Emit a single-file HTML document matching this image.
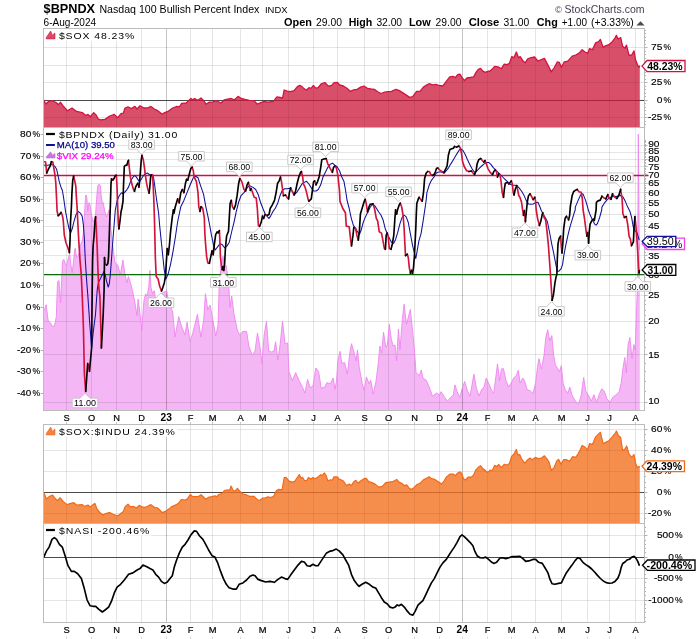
<!DOCTYPE html>
<html><head><meta charset="utf-8"><title>$BPNDX</title>
<style>html,body{margin:0;padding:0;background:#fff;width:700px;height:639px;overflow:hidden;font-family:"Liberation Sans",sans-serif}
#ohlc{position:absolute;top:14.5px;left:0;width:640px;text-align:right;font-size:10.3px;line-height:13px;white-space:nowrap;color:#000;letter-spacing:0px}
#ohlc b{font-weight:bold}
</style></head><body>
<svg width="700" height="639" viewBox="0 0 700 639" style="position:absolute;left:0;top:0;will-change:transform">
<rect width="700" height="639" fill="#fff"/>
<line x1="66.5" y1="28.5" x2="66.5" y2="127.5" stroke="rgba(0,0,0,0.050)" stroke-width="1"/>
<line x1="91.5" y1="28.5" x2="91.5" y2="127.5" stroke="rgba(0,0,0,0.050)" stroke-width="1"/>
<line x1="116.5" y1="28.5" x2="116.5" y2="127.5" stroke="rgba(0,0,0,0.050)" stroke-width="1"/>
<line x1="141.5" y1="28.5" x2="141.5" y2="127.5" stroke="rgba(0,0,0,0.050)" stroke-width="1"/>
<line x1="166.5" y1="28.5" x2="166.5" y2="127.5" stroke="rgba(0,0,0,0.120)" stroke-width="1"/>
<line x1="190.5" y1="28.5" x2="190.5" y2="127.5" stroke="rgba(0,0,0,0.050)" stroke-width="1"/>
<line x1="212.5" y1="28.5" x2="212.5" y2="127.5" stroke="rgba(0,0,0,0.050)" stroke-width="1"/>
<line x1="240.5" y1="28.5" x2="240.5" y2="127.5" stroke="rgba(0,0,0,0.050)" stroke-width="1"/>
<line x1="262.5" y1="28.5" x2="262.5" y2="127.5" stroke="rgba(0,0,0,0.050)" stroke-width="1"/>
<line x1="288.5" y1="28.5" x2="288.5" y2="127.5" stroke="rgba(0,0,0,0.050)" stroke-width="1"/>
<line x1="313.5" y1="28.5" x2="313.5" y2="127.5" stroke="rgba(0,0,0,0.050)" stroke-width="1"/>
<line x1="337.5" y1="28.5" x2="337.5" y2="127.5" stroke="rgba(0,0,0,0.050)" stroke-width="1"/>
<line x1="364.5" y1="28.5" x2="364.5" y2="127.5" stroke="rgba(0,0,0,0.050)" stroke-width="1"/>
<line x1="388.5" y1="28.5" x2="388.5" y2="127.5" stroke="rgba(0,0,0,0.050)" stroke-width="1"/>
<line x1="414.5" y1="28.5" x2="414.5" y2="127.5" stroke="rgba(0,0,0,0.050)" stroke-width="1"/>
<line x1="439.5" y1="28.5" x2="439.5" y2="127.5" stroke="rgba(0,0,0,0.050)" stroke-width="1"/>
<line x1="462.5" y1="28.5" x2="462.5" y2="127.5" stroke="rgba(0,0,0,0.120)" stroke-width="1"/>
<line x1="487.5" y1="28.5" x2="487.5" y2="127.5" stroke="rgba(0,0,0,0.050)" stroke-width="1"/>
<line x1="511.5" y1="28.5" x2="511.5" y2="127.5" stroke="rgba(0,0,0,0.050)" stroke-width="1"/>
<line x1="535.5" y1="28.5" x2="535.5" y2="127.5" stroke="rgba(0,0,0,0.050)" stroke-width="1"/>
<line x1="561.5" y1="28.5" x2="561.5" y2="127.5" stroke="rgba(0,0,0,0.050)" stroke-width="1"/>
<line x1="587.5" y1="28.5" x2="587.5" y2="127.5" stroke="rgba(0,0,0,0.050)" stroke-width="1"/>
<line x1="609.5" y1="28.5" x2="609.5" y2="127.5" stroke="rgba(0,0,0,0.050)" stroke-width="1"/>
<line x1="635.5" y1="28.5" x2="635.5" y2="127.5" stroke="rgba(0,0,0,0.050)" stroke-width="1"/>
<line x1="43.5" y1="47.5" x2="644.5" y2="47.5" stroke="rgba(0,0,0,0.050)" stroke-width="1"/>
<line x1="43.5" y1="65.5" x2="644.5" y2="65.5" stroke="rgba(0,0,0,0.050)" stroke-width="1"/>
<line x1="43.5" y1="82.5" x2="644.5" y2="82.5" stroke="rgba(0,0,0,0.050)" stroke-width="1"/>
<line x1="43.5" y1="117.5" x2="644.5" y2="117.5" stroke="rgba(0,0,0,0.050)" stroke-width="1"/>
<line x1="43.5" y1="100.5" x2="644.5" y2="100.5" stroke="#4a4a4a" stroke-width="1"/>
<path d="M43.9 100.7 L44.1 100.7 L45.7 103.9 L49.1 101.1 L52.6 100.7 L56.0 102.5 L58.3 104.6 L60.6 102.3 L62.9 105.7 L67.4 110.7 L72.0 108.0 L76.6 111.4 L82.3 112.6 L85.7 115.5 L88.0 114.4 L90.3 116.7 L93.7 112.6 L96.0 114.9 L98.3 119.0 L100.6 119.9 L105.0 119.4 L109.7 116.0 L114.3 114.4 L117.7 117.6 L121.0 113.7 L123.4 113.0 L125.0 108.0 L128.0 106.9 L131.4 108.5 L134.9 106.4 L137.0 109.0 L140.0 105.7 L144.0 108.0 L147.4 108.0 L150.9 106.4 L154.3 109.0 L157.7 110.7 L162.3 114.2 L164.6 112.6 L168.0 111.4 L172.6 108.0 L177.0 106.4 L179.4 106.9 L181.7 103.4 L186.3 103.0 L190.9 98.4 L192.3 99.8 L194.6 98.7 L198.0 100.3 L201.0 98.0 L203.7 100.7 L206.0 104.2 L209.4 102.1 L212.9 101.9 L216.3 100.7 L220.9 103.0 L224.3 99.8 L227.7 99.1 L231.1 98.5 L234.6 99.8 L238.0 96.4 L241.4 98.5 L244.9 99.4 L249.4 100.3 L254.0 100.7 L257.4 104.2 L260.9 102.6 L264.3 101.4 L267.7 102.1 L273.4 101.4 L276.9 96.9 L280.3 97.5 L282.6 98.0 L284.2 90.0 L287.1 91.1 L290.6 91.6 L294.0 90.7 L297.4 86.6 L299.7 85.4 L302.0 86.6 L304.3 88.9 L306.6 90.0 L308.9 87.7 L311.1 88.4 L313.4 85.4 L315.7 88.2 L318.0 87.7 L321.4 83.8 L324.9 82.5 L328.3 86.1 L331.7 85.4 L334.0 82.7 L337.4 82.5 L339.7 85.0 L343.4 86.0 L346.9 88.3 L350.3 91.3 L353.7 89.9 L357.1 89.4 L360.6 87.1 L364.0 86.0 L367.4 88.3 L370.9 89.0 L374.3 89.4 L377.7 91.7 L381.1 93.5 L384.6 92.2 L388.0 91.7 L391.4 91.3 L396.0 89.4 L399.4 90.6 L402.9 92.9 L406.3 95.1 L409.7 97.4 L412.7 96.7 L416.6 91.3 L420.0 91.3 L423.4 87.1 L426.9 84.9 L429.1 83.7 L432.6 84.9 L436.0 84.4 L439.4 85.5 L442.9 86.0 L446.3 81.4 L449.7 76.9 L453.1 76.4 L455.4 77.5 L457.7 74.6 L460.0 74.1 L462.3 78.0 L464.6 80.7 L466.9 78.0 L470.3 77.5 L473.7 76.9 L476.0 72.3 L478.3 69.3 L480.6 68.4 L482.9 71.1 L485.1 72.3 L488.6 71.1 L490.0 71.0 L492.3 69.1 L494.6 66.4 L498.0 66.9 L501.4 68.7 L504.2 64.1 L507.1 64.6 L509.4 63.4 L511.7 56.6 L514.0 57.7 L516.3 52.0 L518.6 57.7 L520.2 56.6 L523.1 61.1 L525.4 62.7 L527.7 58.9 L531.1 57.7 L534.6 57.0 L538.0 61.1 L541.4 59.5 L544.4 58.4 L547.1 63.4 L551.3 71.9 L554.0 68.0 L557.4 61.8 L559.3 62.3 L561.3 67.3 L564.3 61.8 L567.7 61.1 L572.3 56.1 L575.7 55.0 L579.1 53.1 L582.1 49.7 L584.9 52.0 L587.8 53.1 L589.4 48.6 L592.4 49.7 L595.6 42.9 L598.6 41.7 L600.4 39.4 L603.1 47.4 L605.4 45.8 L608.9 44.7 L612.3 41.7 L615.3 37.6 L616.4 35.3 L618.0 39.0 L620.7 37.6 L622.6 46.3 L624.9 48.1 L626.5 45.1 L629.0 55.4 L631.7 55.0 L634.0 50.9 L635.6 60.0 L637.4 64.6 L639.0 67.3 L639.8 65.7 L639.8 127.0 L43.9 127.0 Z" fill="rgba(203,24,58,0.76)" stroke="none"/>
<line x1="66.5" y1="28.5" x2="66.5" y2="127.5" stroke="rgba(0,0,0,0.052)" stroke-width="1"/>
<line x1="91.5" y1="28.5" x2="91.5" y2="127.5" stroke="rgba(0,0,0,0.052)" stroke-width="1"/>
<line x1="116.5" y1="28.5" x2="116.5" y2="127.5" stroke="rgba(0,0,0,0.052)" stroke-width="1"/>
<line x1="141.5" y1="28.5" x2="141.5" y2="127.5" stroke="rgba(0,0,0,0.052)" stroke-width="1"/>
<line x1="166.5" y1="28.5" x2="166.5" y2="127.5" stroke="rgba(0,0,0,0.125)" stroke-width="1"/>
<line x1="190.5" y1="28.5" x2="190.5" y2="127.5" stroke="rgba(0,0,0,0.052)" stroke-width="1"/>
<line x1="212.5" y1="28.5" x2="212.5" y2="127.5" stroke="rgba(0,0,0,0.052)" stroke-width="1"/>
<line x1="240.5" y1="28.5" x2="240.5" y2="127.5" stroke="rgba(0,0,0,0.052)" stroke-width="1"/>
<line x1="262.5" y1="28.5" x2="262.5" y2="127.5" stroke="rgba(0,0,0,0.052)" stroke-width="1"/>
<line x1="288.5" y1="28.5" x2="288.5" y2="127.5" stroke="rgba(0,0,0,0.052)" stroke-width="1"/>
<line x1="313.5" y1="28.5" x2="313.5" y2="127.5" stroke="rgba(0,0,0,0.052)" stroke-width="1"/>
<line x1="337.5" y1="28.5" x2="337.5" y2="127.5" stroke="rgba(0,0,0,0.052)" stroke-width="1"/>
<line x1="364.5" y1="28.5" x2="364.5" y2="127.5" stroke="rgba(0,0,0,0.052)" stroke-width="1"/>
<line x1="388.5" y1="28.5" x2="388.5" y2="127.5" stroke="rgba(0,0,0,0.052)" stroke-width="1"/>
<line x1="414.5" y1="28.5" x2="414.5" y2="127.5" stroke="rgba(0,0,0,0.052)" stroke-width="1"/>
<line x1="439.5" y1="28.5" x2="439.5" y2="127.5" stroke="rgba(0,0,0,0.052)" stroke-width="1"/>
<line x1="462.5" y1="28.5" x2="462.5" y2="127.5" stroke="rgba(0,0,0,0.125)" stroke-width="1"/>
<line x1="487.5" y1="28.5" x2="487.5" y2="127.5" stroke="rgba(0,0,0,0.052)" stroke-width="1"/>
<line x1="511.5" y1="28.5" x2="511.5" y2="127.5" stroke="rgba(0,0,0,0.052)" stroke-width="1"/>
<line x1="535.5" y1="28.5" x2="535.5" y2="127.5" stroke="rgba(0,0,0,0.052)" stroke-width="1"/>
<line x1="561.5" y1="28.5" x2="561.5" y2="127.5" stroke="rgba(0,0,0,0.052)" stroke-width="1"/>
<line x1="587.5" y1="28.5" x2="587.5" y2="127.5" stroke="rgba(0,0,0,0.052)" stroke-width="1"/>
<line x1="609.5" y1="28.5" x2="609.5" y2="127.5" stroke="rgba(0,0,0,0.052)" stroke-width="1"/>
<line x1="635.5" y1="28.5" x2="635.5" y2="127.5" stroke="rgba(0,0,0,0.052)" stroke-width="1"/>
<line x1="43.5" y1="47.5" x2="644.5" y2="47.5" stroke="rgba(0,0,0,0.052)" stroke-width="1"/>
<line x1="43.5" y1="65.5" x2="644.5" y2="65.5" stroke="rgba(0,0,0,0.052)" stroke-width="1"/>
<line x1="43.5" y1="82.5" x2="644.5" y2="82.5" stroke="rgba(0,0,0,0.052)" stroke-width="1"/>
<line x1="43.5" y1="117.5" x2="644.5" y2="117.5" stroke="rgba(0,0,0,0.052)" stroke-width="1"/>
<path d="M43.9 100.7 L44.1 100.7 L45.7 103.9 L49.1 101.1 L52.6 100.7 L56.0 102.5 L58.3 104.6 L60.6 102.3 L62.9 105.7 L67.4 110.7 L72.0 108.0 L76.6 111.4 L82.3 112.6 L85.7 115.5 L88.0 114.4 L90.3 116.7 L93.7 112.6 L96.0 114.9 L98.3 119.0 L100.6 119.9 L105.0 119.4 L109.7 116.0 L114.3 114.4 L117.7 117.6 L121.0 113.7 L123.4 113.0 L125.0 108.0 L128.0 106.9 L131.4 108.5 L134.9 106.4 L137.0 109.0 L140.0 105.7 L144.0 108.0 L147.4 108.0 L150.9 106.4 L154.3 109.0 L157.7 110.7 L162.3 114.2 L164.6 112.6 L168.0 111.4 L172.6 108.0 L177.0 106.4 L179.4 106.9 L181.7 103.4 L186.3 103.0 L190.9 98.4 L192.3 99.8 L194.6 98.7 L198.0 100.3 L201.0 98.0 L203.7 100.7 L206.0 104.2 L209.4 102.1 L212.9 101.9 L216.3 100.7 L220.9 103.0 L224.3 99.8 L227.7 99.1 L231.1 98.5 L234.6 99.8 L238.0 96.4 L241.4 98.5 L244.9 99.4 L249.4 100.3 L254.0 100.7 L257.4 104.2 L260.9 102.6 L264.3 101.4 L267.7 102.1 L273.4 101.4 L276.9 96.9 L280.3 97.5 L282.6 98.0 L284.2 90.0 L287.1 91.1 L290.6 91.6 L294.0 90.7 L297.4 86.6 L299.7 85.4 L302.0 86.6 L304.3 88.9 L306.6 90.0 L308.9 87.7 L311.1 88.4 L313.4 85.4 L315.7 88.2 L318.0 87.7 L321.4 83.8 L324.9 82.5 L328.3 86.1 L331.7 85.4 L334.0 82.7 L337.4 82.5 L339.7 85.0 L343.4 86.0 L346.9 88.3 L350.3 91.3 L353.7 89.9 L357.1 89.4 L360.6 87.1 L364.0 86.0 L367.4 88.3 L370.9 89.0 L374.3 89.4 L377.7 91.7 L381.1 93.5 L384.6 92.2 L388.0 91.7 L391.4 91.3 L396.0 89.4 L399.4 90.6 L402.9 92.9 L406.3 95.1 L409.7 97.4 L412.7 96.7 L416.6 91.3 L420.0 91.3 L423.4 87.1 L426.9 84.9 L429.1 83.7 L432.6 84.9 L436.0 84.4 L439.4 85.5 L442.9 86.0 L446.3 81.4 L449.7 76.9 L453.1 76.4 L455.4 77.5 L457.7 74.6 L460.0 74.1 L462.3 78.0 L464.6 80.7 L466.9 78.0 L470.3 77.5 L473.7 76.9 L476.0 72.3 L478.3 69.3 L480.6 68.4 L482.9 71.1 L485.1 72.3 L488.6 71.1 L490.0 71.0 L492.3 69.1 L494.6 66.4 L498.0 66.9 L501.4 68.7 L504.2 64.1 L507.1 64.6 L509.4 63.4 L511.7 56.6 L514.0 57.7 L516.3 52.0 L518.6 57.7 L520.2 56.6 L523.1 61.1 L525.4 62.7 L527.7 58.9 L531.1 57.7 L534.6 57.0 L538.0 61.1 L541.4 59.5 L544.4 58.4 L547.1 63.4 L551.3 71.9 L554.0 68.0 L557.4 61.8 L559.3 62.3 L561.3 67.3 L564.3 61.8 L567.7 61.1 L572.3 56.1 L575.7 55.0 L579.1 53.1 L582.1 49.7 L584.9 52.0 L587.8 53.1 L589.4 48.6 L592.4 49.7 L595.6 42.9 L598.6 41.7 L600.4 39.4 L603.1 47.4 L605.4 45.8 L608.9 44.7 L612.3 41.7 L615.3 37.6 L616.4 35.3 L618.0 39.0 L620.7 37.6 L622.6 46.3 L624.9 48.1 L626.5 45.1 L629.0 55.4 L631.7 55.0 L634.0 50.9 L635.6 60.0 L637.4 64.6 L639.0 67.3 L639.8 65.7" fill="none" stroke="#d41440" stroke-width="1.3" stroke-linejoin="round"/>
<rect x="43.5" y="28.5" width="601.0" height="99.0" fill="none" stroke="#bcbcbc" stroke-width="1"/>
<line x1="644.5" y1="124.5" x2="646.0" y2="124.5" stroke="#b4b4b4" stroke-width="1"/>
<line x1="644.5" y1="121.5" x2="646.0" y2="121.5" stroke="#b4b4b4" stroke-width="1"/>
<line x1="644.5" y1="117.5" x2="646.0" y2="117.5" stroke="#b4b4b4" stroke-width="1"/>
<line x1="644.5" y1="114.5" x2="646.0" y2="114.5" stroke="#b4b4b4" stroke-width="1"/>
<line x1="644.5" y1="110.5" x2="646.0" y2="110.5" stroke="#b4b4b4" stroke-width="1"/>
<line x1="644.5" y1="107.5" x2="646.0" y2="107.5" stroke="#b4b4b4" stroke-width="1"/>
<line x1="644.5" y1="103.5" x2="646.0" y2="103.5" stroke="#b4b4b4" stroke-width="1"/>
<line x1="644.5" y1="100.5" x2="646.0" y2="100.5" stroke="#b4b4b4" stroke-width="1"/>
<line x1="644.5" y1="96.5" x2="646.0" y2="96.5" stroke="#b4b4b4" stroke-width="1"/>
<line x1="644.5" y1="93.5" x2="646.0" y2="93.5" stroke="#b4b4b4" stroke-width="1"/>
<line x1="644.5" y1="89.5" x2="646.0" y2="89.5" stroke="#b4b4b4" stroke-width="1"/>
<line x1="644.5" y1="86.5" x2="646.0" y2="86.5" stroke="#b4b4b4" stroke-width="1"/>
<line x1="644.5" y1="82.5" x2="646.0" y2="82.5" stroke="#b4b4b4" stroke-width="1"/>
<line x1="644.5" y1="79.5" x2="646.0" y2="79.5" stroke="#b4b4b4" stroke-width="1"/>
<line x1="644.5" y1="75.5" x2="646.0" y2="75.5" stroke="#b4b4b4" stroke-width="1"/>
<line x1="644.5" y1="72.5" x2="646.0" y2="72.5" stroke="#b4b4b4" stroke-width="1"/>
<line x1="644.5" y1="68.5" x2="646.0" y2="68.5" stroke="#b4b4b4" stroke-width="1"/>
<line x1="644.5" y1="65.5" x2="646.0" y2="65.5" stroke="#b4b4b4" stroke-width="1"/>
<line x1="644.5" y1="61.5" x2="646.0" y2="61.5" stroke="#b4b4b4" stroke-width="1"/>
<line x1="644.5" y1="58.5" x2="646.0" y2="58.5" stroke="#b4b4b4" stroke-width="1"/>
<line x1="644.5" y1="54.5" x2="646.0" y2="54.5" stroke="#b4b4b4" stroke-width="1"/>
<line x1="644.5" y1="51.5" x2="646.0" y2="51.5" stroke="#b4b4b4" stroke-width="1"/>
<line x1="644.5" y1="47.5" x2="646.0" y2="47.5" stroke="#b4b4b4" stroke-width="1"/>
<line x1="644.5" y1="44.5" x2="646.0" y2="44.5" stroke="#b4b4b4" stroke-width="1"/>
<line x1="644.5" y1="40.5" x2="646.0" y2="40.5" stroke="#b4b4b4" stroke-width="1"/>
<line x1="644.5" y1="37.5" x2="646.0" y2="37.5" stroke="#b4b4b4" stroke-width="1"/>
<line x1="644.5" y1="33.5" x2="646.0" y2="33.5" stroke="#b4b4b4" stroke-width="1"/>
<line x1="644.5" y1="30.5" x2="646.0" y2="30.5" stroke="#b4b4b4" stroke-width="1"/>
<line x1="644.5" y1="47.5" x2="647.5" y2="47.5" stroke="#b4b4b4" stroke-width="1"/>
<line x1="644.5" y1="65.5" x2="647.5" y2="65.5" stroke="#b4b4b4" stroke-width="1"/>
<line x1="644.5" y1="82.5" x2="647.5" y2="82.5" stroke="#b4b4b4" stroke-width="1"/>
<line x1="644.5" y1="100.5" x2="647.5" y2="100.5" stroke="#b4b4b4" stroke-width="1"/>
<line x1="644.5" y1="117.5" x2="647.5" y2="117.5" stroke="#b4b4b4" stroke-width="1"/>
<text x="651.0" y="49.8" font-family="Liberation Sans, sans-serif" font-size="9.60" text-anchor="start" font-weight="normal" fill="#000" stroke="#000" stroke-width="0.15" textLength="11.3" lengthAdjust="spacingAndGlyphs">75</text>
<text x="663.6" y="49.8" font-family="Liberation Sans, sans-serif" font-size="9.60" text-anchor="start" font-weight="normal" fill="#000" stroke="#000" stroke-width="0.15" textLength="7.6" lengthAdjust="spacingAndGlyphs">%</text>
<text x="651.0" y="84.8" font-family="Liberation Sans, sans-serif" font-size="9.60" text-anchor="start" font-weight="normal" fill="#000" stroke="#000" stroke-width="0.15" textLength="11.3" lengthAdjust="spacingAndGlyphs">25</text>
<text x="663.6" y="84.8" font-family="Liberation Sans, sans-serif" font-size="9.60" text-anchor="start" font-weight="normal" fill="#000" stroke="#000" stroke-width="0.15" textLength="7.6" lengthAdjust="spacingAndGlyphs">%</text>
<text x="656.7" y="102.8" font-family="Liberation Sans, sans-serif" font-size="9.60" text-anchor="start" font-weight="normal" fill="#000" stroke="#000" stroke-width="0.15" textLength="5.7" lengthAdjust="spacingAndGlyphs">0</text>
<text x="663.6" y="102.8" font-family="Liberation Sans, sans-serif" font-size="9.60" text-anchor="start" font-weight="normal" fill="#000" stroke="#000" stroke-width="0.15" textLength="7.6" lengthAdjust="spacingAndGlyphs">%</text>
<text x="648.0" y="119.8" font-family="Liberation Sans, sans-serif" font-size="9.60" text-anchor="start" font-weight="normal" fill="#000" stroke="#000" stroke-width="0.15" textLength="14.3" lengthAdjust="spacingAndGlyphs">-25</text>
<text x="663.6" y="119.8" font-family="Liberation Sans, sans-serif" font-size="9.60" text-anchor="start" font-weight="normal" fill="#000" stroke="#000" stroke-width="0.15" textLength="7.6" lengthAdjust="spacingAndGlyphs">%</text>
<path d="M43.9 309.9 L44.4 309.9 L46.2 304.7 L48.1 320.5 L50.5 322.8 L52.1 326.3 L54.5 325.9 L56.3 316.9 L57.5 281.7 L59.0 280.5 L60.6 302.9 L61.5 284.0 L62.5 261.3 L63.8 259.4 L65.3 263.8 L66.5 265.1 L68.4 257.6 L69.7 254.4 L70.9 265.1 L72.2 272.6 L73.4 262.6 L74.7 250.1 L75.3 248.2 L76.5 257.6 L77.8 256.3 L79.7 251.3 L80.9 243.8 L82.2 241.3 L83.4 232.5 L84.3 218.0 L85.1 204.8 L85.6 196.0 L86.2 194.9 L86.9 198.2 L87.8 211.3 L88.4 206.0 L89.1 202.6 L90.0 204.8 L90.9 211.3 L91.6 215.7 L92.7 220.0 L93.8 222.0 L94.6 220.0 L95.5 215.7 L96.6 199.3 L97.7 186.1 L98.8 184.2 L100.4 185.6 L101.2 196.0 L102.0 201.5 L103.1 202.6 L104.8 211.3 L106.4 216.8 L107.8 214.0 L109.1 210.0 L110.3 222.5 L112.2 242.5 L113.5 251.3 L114.7 261.3 L116.0 263.8 L117.8 265.1 L119.1 270.1 L120.3 275.1 L121.5 268.0 L122.9 260.0 L124.6 272.0 L126.8 283.0 L128.4 276.4 L130.5 283.0 L132.7 291.7 L134.9 302.7 L137.1 315.8 L138.1 299.0 L139.5 310.0 L141.9 330.0 L143.0 312.0 L144.0 300.1 L145.6 293.9 L147.0 296.0 L148.7 287.6 L149.9 270.4 L151.0 287.6 L152.6 293.9 L154.2 290.7 L155.7 300.1 L158.1 306.4 L159.6 300.1 L161.2 293.9 L163.6 292.3 L166.7 290.7 L168.3 300.1 L170.6 306.4 L172.7 312.0 L175.0 337.1 L178.7 316.6 L181.4 325.7 L184.9 334.9 L187.1 322.3 L190.1 341.7 L192.9 332.6 L197.4 314.3 L200.9 337.1 L203.8 318.9 L205.4 293.7 L207.7 309.7 L210.0 305.1 L212.3 316.6 L215.7 336.0 L218.0 325.7 L219.1 289.1 L220.7 270.4 L223.0 256.3 L224.5 267.0 L226.2 265.7 L227.7 276.6 L229.0 289.1 L229.9 307.4 L231.7 296.0 L234.0 314.3 L237.4 330.3 L239.7 334.9 L242.7 331.4 L246.6 331.4 L248.9 346.3 L252.3 355.4 L255.0 350.9 L257.5 333.0 L260.3 348.6 L261.9 363.4 L264.2 334.9 L266.5 321.1 L268.7 350.9 L271.7 352.0 L274.0 350.9 L275.6 341.7 L277.9 360.0 L280.2 344.0 L282.5 321.1 L285.0 344.0 L287.7 342.9 L288.9 371.4 L292.3 380.6 L295.7 372.6 L299.1 380.6 L302.6 387.4 L304.9 393.1 L307.6 379.4 L309.9 387.4 L312.9 386.3 L315.8 368.0 L318.6 371.4 L320.9 386.3 L321.1 388.3 L324.6 387.1 L326.9 382.6 L330.3 383.7 L333.3 378.0 L334.9 389.4 L336.5 381.4 L337.8 360.9 L340.1 351.3 L341.7 363.1 L344.7 362.7 L347.4 374.1 L349.7 354.0 L351.5 343.7 L353.8 351.3 L356.1 360.9 L357.5 349.9 L359.3 367.7 L362.3 383.7 L364.1 390.6 L366.4 376.9 L369.1 383.7 L370.7 380.3 L373.3 394.0 L376.0 381.4 L378.3 363.1 L379.9 346.0 L381.7 352.9 L383.5 332.3 L385.8 347.1 L387.4 344.9 L389.3 324.3 L391.3 339.1 L393.1 346.0 L395.0 344.9 L396.6 360.9 L398.4 328.9 L400.0 349.4 L402.3 319.7 L404.1 304.2 L406.4 324.3 L408.0 318.6 L410.3 309.4 L412.6 331.1 L414.4 349.4 L416.0 372.3 L419.4 375.7 L421.3 370.0 L422.9 378.0 L426.3 380.3 L429.7 388.3 L432.5 396.3 L436.6 392.9 L439.3 395.1 L441.1 391.7 L444.6 397.4 L447.5 400.9 L450.7 397.4 L453.3 395.1 L454.9 384.9 L457.1 391.7 L459.9 397.4 L462.2 388.3 L464.7 381.4 L467.4 390.6 L470.0 396.0 L472.0 385.0 L473.9 374.1 L476.4 388.3 L479.0 396.0 L481.6 389.6 L484.1 387.0 L486.2 378.0 L488.5 383.1 L491.9 390.9 L493.7 393.4 L495.7 378.0 L497.5 363.9 L499.6 380.6 L501.4 369.0 L503.4 368.5 L506.0 380.6 L508.6 387.0 L511.1 383.1 L513.7 378.0 L516.3 375.4 L518.3 370.3 L520.1 383.1 L522.7 378.0 L524.5 380.6 L527.1 389.6 L530.4 390.9 L533.0 393.4 L535.6 383.1 L537.4 367.7 L538.9 358.7 L541.5 369.0 L544.1 354.9 L545.9 336.9 L547.7 329.7 L549.7 340.7 L551.8 335.6 L553.6 354.9 L555.4 365.1 L557.4 367.7 L559.5 372.0 L561.3 365.7 L563.1 383.1 L565.1 389.6 L567.7 393.4 L569.8 387.0 L572.3 396.0 L575.4 401.1 L578.5 403.7 L581.1 396.0 L583.7 377.5 L585.7 390.9 L588.8 396.0 L591.4 401.1 L593.9 394.7 L596.5 402.4 L599.1 394.7 L601.7 388.8 L604.2 390.9 L606.8 398.6 L610.1 402.4 L612.7 397.3 L616.1 394.7 L619.1 392.1 L621.2 383.1 L623.0 367.7 L624.8 357.4 L626.3 372.9 L628.1 344.6 L629.9 337.4 L632.0 358.7 L633.8 344.6 L635.2 350.0 L636.6 308.6 L637.6 285.4 L638.3 134.0 L639.3 250.0 L639.8 244.0 L639.8 410.0 L43.9 410.0 Z" fill="rgba(238,130,238,0.585)" stroke="none"/>
<line x1="66.5" y1="127.5" x2="66.5" y2="410.5" stroke="rgba(0,0,0,0.100)" stroke-width="1"/>
<line x1="91.5" y1="127.5" x2="91.5" y2="410.5" stroke="rgba(0,0,0,0.100)" stroke-width="1"/>
<line x1="116.5" y1="127.5" x2="116.5" y2="410.5" stroke="rgba(0,0,0,0.100)" stroke-width="1"/>
<line x1="141.5" y1="127.5" x2="141.5" y2="410.5" stroke="rgba(0,0,0,0.100)" stroke-width="1"/>
<line x1="166.5" y1="127.5" x2="166.5" y2="410.5" stroke="rgba(0,0,0,0.240)" stroke-width="1"/>
<line x1="190.5" y1="127.5" x2="190.5" y2="410.5" stroke="rgba(0,0,0,0.100)" stroke-width="1"/>
<line x1="212.5" y1="127.5" x2="212.5" y2="410.5" stroke="rgba(0,0,0,0.100)" stroke-width="1"/>
<line x1="240.5" y1="127.5" x2="240.5" y2="410.5" stroke="rgba(0,0,0,0.100)" stroke-width="1"/>
<line x1="262.5" y1="127.5" x2="262.5" y2="410.5" stroke="rgba(0,0,0,0.100)" stroke-width="1"/>
<line x1="288.5" y1="127.5" x2="288.5" y2="410.5" stroke="rgba(0,0,0,0.100)" stroke-width="1"/>
<line x1="313.5" y1="127.5" x2="313.5" y2="410.5" stroke="rgba(0,0,0,0.100)" stroke-width="1"/>
<line x1="337.5" y1="127.5" x2="337.5" y2="410.5" stroke="rgba(0,0,0,0.100)" stroke-width="1"/>
<line x1="364.5" y1="127.5" x2="364.5" y2="410.5" stroke="rgba(0,0,0,0.100)" stroke-width="1"/>
<line x1="388.5" y1="127.5" x2="388.5" y2="410.5" stroke="rgba(0,0,0,0.100)" stroke-width="1"/>
<line x1="414.5" y1="127.5" x2="414.5" y2="410.5" stroke="rgba(0,0,0,0.100)" stroke-width="1"/>
<line x1="439.5" y1="127.5" x2="439.5" y2="410.5" stroke="rgba(0,0,0,0.100)" stroke-width="1"/>
<line x1="462.5" y1="127.5" x2="462.5" y2="410.5" stroke="rgba(0,0,0,0.240)" stroke-width="1"/>
<line x1="487.5" y1="127.5" x2="487.5" y2="410.5" stroke="rgba(0,0,0,0.100)" stroke-width="1"/>
<line x1="511.5" y1="127.5" x2="511.5" y2="410.5" stroke="rgba(0,0,0,0.100)" stroke-width="1"/>
<line x1="535.5" y1="127.5" x2="535.5" y2="410.5" stroke="rgba(0,0,0,0.100)" stroke-width="1"/>
<line x1="561.5" y1="127.5" x2="561.5" y2="410.5" stroke="rgba(0,0,0,0.100)" stroke-width="1"/>
<line x1="587.5" y1="127.5" x2="587.5" y2="410.5" stroke="rgba(0,0,0,0.100)" stroke-width="1"/>
<line x1="609.5" y1="127.5" x2="609.5" y2="410.5" stroke="rgba(0,0,0,0.100)" stroke-width="1"/>
<line x1="635.5" y1="127.5" x2="635.5" y2="410.5" stroke="rgba(0,0,0,0.100)" stroke-width="1"/>
<line x1="43.5" y1="145.5" x2="644.5" y2="145.5" stroke="rgba(0,0,0,0.100)" stroke-width="1"/>
<line x1="43.5" y1="152.5" x2="644.5" y2="152.5" stroke="rgba(0,0,0,0.100)" stroke-width="1"/>
<line x1="43.5" y1="159.5" x2="644.5" y2="159.5" stroke="rgba(0,0,0,0.100)" stroke-width="1"/>
<line x1="43.5" y1="166.5" x2="644.5" y2="166.5" stroke="rgba(0,0,0,0.100)" stroke-width="1"/>
<line x1="43.5" y1="183.5" x2="644.5" y2="183.5" stroke="rgba(0,0,0,0.100)" stroke-width="1"/>
<line x1="43.5" y1="192.5" x2="644.5" y2="192.5" stroke="rgba(0,0,0,0.100)" stroke-width="1"/>
<line x1="43.5" y1="203.5" x2="644.5" y2="203.5" stroke="rgba(0,0,0,0.100)" stroke-width="1"/>
<line x1="43.5" y1="214.5" x2="644.5" y2="214.5" stroke="rgba(0,0,0,0.100)" stroke-width="1"/>
<line x1="43.5" y1="226.5" x2="644.5" y2="226.5" stroke="rgba(0,0,0,0.100)" stroke-width="1"/>
<line x1="43.5" y1="240.5" x2="644.5" y2="240.5" stroke="rgba(0,0,0,0.100)" stroke-width="1"/>
<line x1="43.5" y1="255.5" x2="644.5" y2="255.5" stroke="rgba(0,0,0,0.100)" stroke-width="1"/>
<line x1="43.5" y1="295.5" x2="644.5" y2="295.5" stroke="rgba(0,0,0,0.100)" stroke-width="1"/>
<line x1="43.5" y1="321.5" x2="644.5" y2="321.5" stroke="rgba(0,0,0,0.100)" stroke-width="1"/>
<line x1="43.5" y1="354.5" x2="644.5" y2="354.5" stroke="rgba(0,0,0,0.100)" stroke-width="1"/>
<line x1="43.5" y1="402.5" x2="644.5" y2="402.5" stroke="rgba(0,0,0,0.100)" stroke-width="1"/>
<path d="M43.9 309.9 L44.4 309.9 L46.2 304.7 L48.1 320.5 L50.5 322.8 L52.1 326.3 L54.5 325.9 L56.3 316.9 L57.5 281.7 L59.0 280.5 L60.6 302.9 L61.5 284.0 L62.5 261.3 L63.8 259.4 L65.3 263.8 L66.5 265.1 L68.4 257.6 L69.7 254.4 L70.9 265.1 L72.2 272.6 L73.4 262.6 L74.7 250.1 L75.3 248.2 L76.5 257.6 L77.8 256.3 L79.7 251.3 L80.9 243.8 L82.2 241.3 L83.4 232.5 L84.3 218.0 L85.1 204.8 L85.6 196.0 L86.2 194.9 L86.9 198.2 L87.8 211.3 L88.4 206.0 L89.1 202.6 L90.0 204.8 L90.9 211.3 L91.6 215.7 L92.7 220.0 L93.8 222.0 L94.6 220.0 L95.5 215.7 L96.6 199.3 L97.7 186.1 L98.8 184.2 L100.4 185.6 L101.2 196.0 L102.0 201.5 L103.1 202.6 L104.8 211.3 L106.4 216.8 L107.8 214.0 L109.1 210.0 L110.3 222.5 L112.2 242.5 L113.5 251.3 L114.7 261.3 L116.0 263.8 L117.8 265.1 L119.1 270.1 L120.3 275.1 L121.5 268.0 L122.9 260.0 L124.6 272.0 L126.8 283.0 L128.4 276.4 L130.5 283.0 L132.7 291.7 L134.9 302.7 L137.1 315.8 L138.1 299.0 L139.5 310.0 L141.9 330.0 L143.0 312.0 L144.0 300.1 L145.6 293.9 L147.0 296.0 L148.7 287.6 L149.9 270.4 L151.0 287.6 L152.6 293.9 L154.2 290.7 L155.7 300.1 L158.1 306.4 L159.6 300.1 L161.2 293.9 L163.6 292.3 L166.7 290.7 L168.3 300.1 L170.6 306.4 L172.7 312.0 L175.0 337.1 L178.7 316.6 L181.4 325.7 L184.9 334.9 L187.1 322.3 L190.1 341.7 L192.9 332.6 L197.4 314.3 L200.9 337.1 L203.8 318.9 L205.4 293.7 L207.7 309.7 L210.0 305.1 L212.3 316.6 L215.7 336.0 L218.0 325.7 L219.1 289.1 L220.7 270.4 L223.0 256.3 L224.5 267.0 L226.2 265.7 L227.7 276.6 L229.0 289.1 L229.9 307.4 L231.7 296.0 L234.0 314.3 L237.4 330.3 L239.7 334.9 L242.7 331.4 L246.6 331.4 L248.9 346.3 L252.3 355.4 L255.0 350.9 L257.5 333.0 L260.3 348.6 L261.9 363.4 L264.2 334.9 L266.5 321.1 L268.7 350.9 L271.7 352.0 L274.0 350.9 L275.6 341.7 L277.9 360.0 L280.2 344.0 L282.5 321.1 L285.0 344.0 L287.7 342.9 L288.9 371.4 L292.3 380.6 L295.7 372.6 L299.1 380.6 L302.6 387.4 L304.9 393.1 L307.6 379.4 L309.9 387.4 L312.9 386.3 L315.8 368.0 L318.6 371.4 L320.9 386.3 L321.1 388.3 L324.6 387.1 L326.9 382.6 L330.3 383.7 L333.3 378.0 L334.9 389.4 L336.5 381.4 L337.8 360.9 L340.1 351.3 L341.7 363.1 L344.7 362.7 L347.4 374.1 L349.7 354.0 L351.5 343.7 L353.8 351.3 L356.1 360.9 L357.5 349.9 L359.3 367.7 L362.3 383.7 L364.1 390.6 L366.4 376.9 L369.1 383.7 L370.7 380.3 L373.3 394.0 L376.0 381.4 L378.3 363.1 L379.9 346.0 L381.7 352.9 L383.5 332.3 L385.8 347.1 L387.4 344.9 L389.3 324.3 L391.3 339.1 L393.1 346.0 L395.0 344.9 L396.6 360.9 L398.4 328.9 L400.0 349.4 L402.3 319.7 L404.1 304.2 L406.4 324.3 L408.0 318.6 L410.3 309.4 L412.6 331.1 L414.4 349.4 L416.0 372.3 L419.4 375.7 L421.3 370.0 L422.9 378.0 L426.3 380.3 L429.7 388.3 L432.5 396.3 L436.6 392.9 L439.3 395.1 L441.1 391.7 L444.6 397.4 L447.5 400.9 L450.7 397.4 L453.3 395.1 L454.9 384.9 L457.1 391.7 L459.9 397.4 L462.2 388.3 L464.7 381.4 L467.4 390.6 L470.0 396.0 L472.0 385.0 L473.9 374.1 L476.4 388.3 L479.0 396.0 L481.6 389.6 L484.1 387.0 L486.2 378.0 L488.5 383.1 L491.9 390.9 L493.7 393.4 L495.7 378.0 L497.5 363.9 L499.6 380.6 L501.4 369.0 L503.4 368.5 L506.0 380.6 L508.6 387.0 L511.1 383.1 L513.7 378.0 L516.3 375.4 L518.3 370.3 L520.1 383.1 L522.7 378.0 L524.5 380.6 L527.1 389.6 L530.4 390.9 L533.0 393.4 L535.6 383.1 L537.4 367.7 L538.9 358.7 L541.5 369.0 L544.1 354.9 L545.9 336.9 L547.7 329.7 L549.7 340.7 L551.8 335.6 L553.6 354.9 L555.4 365.1 L557.4 367.7 L559.5 372.0 L561.3 365.7 L563.1 383.1 L565.1 389.6 L567.7 393.4 L569.8 387.0 L572.3 396.0 L575.4 401.1 L578.5 403.7 L581.1 396.0 L583.7 377.5 L585.7 390.9 L588.8 396.0 L591.4 401.1 L593.9 394.7 L596.5 402.4 L599.1 394.7 L601.7 388.8 L604.2 390.9 L606.8 398.6 L610.1 402.4 L612.7 397.3 L616.1 394.7 L619.1 392.1 L621.2 383.1 L623.0 367.7 L624.8 357.4 L626.3 372.9 L628.1 344.6 L629.9 337.4 L632.0 358.7 L633.8 344.6 L635.2 350.0 L636.6 308.6 L637.6 285.4 L638.3 134.0 L639.3 250.0 L639.8 244.0" fill="none" stroke="#ee86ee" stroke-width="0.9" stroke-linejoin="round"/>
<line x1="43.5" y1="175.5" x2="648.5" y2="175.5" stroke="#d01040" stroke-width="1.4"/>
<line x1="43.5" y1="274.6" x2="644.5" y2="274.6" stroke="#0a6a0a" stroke-width="1.4"/>
<path d="M44.0 165.3 L47.3 165.3 L50.6 164.8 L52.8 164.8 L55.0 166.4 L56.6 169.2 L57.7 174.1 L59.3 181.8 L61.0 187.2 L62.4 190.5 L63.5 197.1 L64.6 204.8 L65.7 212.4 L67.2 220.0 L69.0 228.8 L70.5 233.2 L72.2 228.8 L74.0 221.3 L75.9 215.0 L77.8 211.3 L80.3 213.1 L82.2 216.3 L83.4 225.0 L84.3 237.5 L85.3 260.1 L86.6 280.1 L87.7 293.9 L89.5 320.0 L91.6 348.0 L93.5 330.0 L95.5 314.5 L97.2 290.0 L98.4 282.6 L100.3 278.8 L102.2 275.1 L104.1 271.3 L105.3 275.1 L106.6 281.3 L108.2 287.0 L109.3 283.8 L110.3 275.1 L111.6 257.6 L112.8 241.3 L114.1 225.0 L115.3 210.0 L117.0 201.3 L118.6 197.0 L120.3 194.2 L121.9 192.6 L123.0 193.9 L124.6 192.4 L126.8 189.8 L128.5 187.1 L130.1 182.7 L131.8 178.9 L133.4 176.7 L134.8 175.6 L136.1 176.7 L137.8 179.4 L139.4 181.6 L141.1 179.4 L142.7 176.7 L144.4 174.5 L146.0 173.4 L147.6 173.1 L149.3 174.5 L150.9 174.8 L152.6 174.8 L153.7 178.3 L154.8 186.0 L155.9 194.8 L157.0 202.4 L158.6 213.0 L159.6 225.0 L161.2 240.6 L162.8 256.3 L164.3 270.4 L165.9 279.0 L168.3 273.5 L170.6 264.1 L173.0 251.6 L175.3 237.5 L177.6 222.0 L180.8 206.7 L183.9 200.4 L187.0 192.6 L190.2 184.8 L193.3 177.7 L195.6 176.2 L198.0 177.7 L200.3 184.8 L203.5 194.2 L205.8 206.7 L208.2 217.6 L209.8 226.0 L211.3 234.4 L213.6 245.3 L215.2 250.0 L217.6 246.9 L219.9 243.8 L222.2 244.6 L224.6 247.7 L226.9 246.1 L229.3 242.2 L231.6 232.0 L234.0 222.3 L236.3 211.4 L238.7 202.0 L241.0 195.7 L244.0 192.6 L247.1 187.9 L249.5 185.6 L252.6 187.1 L255.7 189.5 L258.1 194.2 L260.4 202.0 L262.8 208.2 L265.1 213.7 L267.5 216.9 L269.0 218.4 L270.6 216.1 L273.0 211.4 L275.3 208.2 L277.6 203.6 L280.0 195.7 L282.3 190.3 L284.7 188.7 L287.0 188.7 L290.2 188.2 L292.5 191.8 L294.9 194.2 L297.2 191.8 L299.6 187.9 L301.9 184.0 L304.3 182.4 L306.6 181.3 L308.9 184.0 L311.3 187.9 L313.6 191.0 L316.0 191.0 L318.3 189.5 L320.7 184.8 L323.0 177.0 L325.4 172.3 L327.7 167.6 L330.1 164.4 L332.4 163.2 L334.8 165.2 L337.1 166.8 L339.5 170.7 L341.8 177.0 L344.0 181.6 L345.5 190.0 L347.0 200.0 L349.2 208.5 L351.3 218.3 L353.4 225.4 L355.5 228.2 L357.6 231.7 L359.4 234.5 L361.1 230.3 L363.2 222.5 L365.4 216.9 L368.2 211.3 L370.3 207.0 L372.7 204.5 L374.5 205.4 L376.6 208.5 L378.7 212.0 L380.8 214.8 L383.0 219.7 L385.1 228.2 L387.2 233.8 L389.3 238.0 L391.4 242.3 L393.5 243.4 L395.6 239.4 L397.7 232.4 L399.9 223.9 L402.0 217.6 L404.1 215.2 L406.2 216.9 L408.3 222.5 L410.4 233.8 L412.5 245.1 L414.4 252.8 L415.8 258.5 L417.2 250.7 L418.9 240.8 L421.0 233.8 L423.1 221.1 L425.2 207.0 L426.2 200.0 L426.9 192.6 L429.3 184.8 L431.6 180.1 L434.0 177.0 L436.3 173.0 L438.7 171.9 L441.0 171.9 L444.0 173.4 L446.3 170.7 L448.7 167.6 L451.0 163.6 L453.4 159.7 L455.7 155.8 L458.1 151.9 L460.4 148.5 L462.8 150.3 L465.1 154.3 L467.5 159.7 L469.8 164.4 L472.2 169.1 L474.5 172.3 L476.9 171.0 L479.2 168.3 L481.6 166.0 L483.9 164.1 L486.3 162.6 L488.6 162.4 L490.9 164.4 L493.3 167.6 L495.6 169.9 L498.0 172.3 L500.3 174.6 L502.7 177.0 L505.0 179.3 L507.4 181.6 L509.7 184.0 L512.1 185.1 L514.4 185.2 L516.8 185.6 L519.1 187.9 L521.5 191.0 L523.8 194.9 L526.2 200.4 L528.5 203.9 L530.9 204.3 L533.2 204.0 L535.5 202.8 L537.9 202.3 L540.2 207.5 L541.1 210.0 L543.2 214.2 L545.4 217.7 L547.5 222.0 L549.6 232.5 L551.7 243.8 L553.8 253.7 L555.9 264.9 L557.3 271.3 L558.7 271.3 L560.8 269.2 L562.5 264.9 L563.9 255.1 L565.8 245.2 L567.9 235.4 L570.0 226.9 L572.1 219.9 L574.2 212.8 L575.2 210.0 L575.3 207.1 L577.6 201.6 L580.0 196.2 L581.6 193.8 L583.1 194.1 L585.5 200.1 L587.8 207.9 L588.3 210.0 L590.4 215.6 L592.5 219.9 L594.6 224.1 L596.1 225.2 L597.5 223.4 L599.6 217.7 L601.7 210.0 L601.9 207.1 L604.3 203.2 L606.6 200.4 L608.9 198.2 L611.3 196.9 L613.6 196.2 L616.0 196.5 L618.3 195.9 L620.7 195.4 L623.0 196.9 L625.4 201.6 L627.7 207.1 L630.1 211.8 L631.6 217.3 L633.2 226.7 L634.8 230.6 L637.1 232.9 L639.2 240.0" fill="none" stroke="#10109a" stroke-width="1.05" stroke-linejoin="round"/>
<path d="M44.0 161.5 L45.6 162.0 L46.7 173.0" fill="none" stroke="#d2143c" stroke-width="1.65" stroke-linejoin="round" stroke-linecap="round"/>
<path d="M51.4 161.5 L52.8 162.0 L53.9 168.6 L55.0 175.2 L55.8 182.9 L56.6 199.3 L57.1 211.3 L58.2 215.7" fill="none" stroke="#d2143c" stroke-width="1.65" stroke-linejoin="round" stroke-linecap="round"/>
<path d="M61.0 212.4 L62.1 214.6 L62.9 218.0 L63.4 222.5 L64.3 235.0 L65.9 242.5 L67.8 247.5 L69.4 252.6" fill="none" stroke="#d2143c" stroke-width="1.65" stroke-linejoin="round" stroke-linecap="round"/>
<path d="M73.6 176.1 L74.7 180.7 L75.8 186.1 L76.3 196.0 L77.1 207.0 L77.8 222.5 L78.8 241.3 L80.0 260.1 L81.3 275.1 L82.4 300.0 L83.4 327.4 L84.4 373.9 L85.7 391.4" fill="none" stroke="#d2143c" stroke-width="1.65" stroke-linejoin="round" stroke-linecap="round"/>
<path d="M87.7 363.5 L89.5 371.3" fill="none" stroke="#d2143c" stroke-width="1.65" stroke-linejoin="round" stroke-linecap="round"/>
<path d="M95.6 216.9 L96.3 228.8 L97.2 247.5 L97.8 266.3 L98.4 280.1 L99.1 290.0 L99.9 296.5 L101.4 348.0" fill="none" stroke="#d2143c" stroke-width="1.65" stroke-linejoin="round" stroke-linecap="round"/>
<path d="M104.5 257.6 L105.3 263.8 L106.6 265.1" fill="none" stroke="#d2143c" stroke-width="1.65" stroke-linejoin="round" stroke-linecap="round"/>
<path d="M111.5 178.9 L112.9 180.0" fill="none" stroke="#d2143c" stroke-width="1.65" stroke-linejoin="round" stroke-linecap="round"/>
<path d="M116.4 175.3 L117.0 186.0 L117.5 201.3 L118.3 223.2 L118.9 228.8" fill="none" stroke="#d2143c" stroke-width="1.65" stroke-linejoin="round" stroke-linecap="round"/>
<path d="M128.5 160.3 L129.4 168.5 L130.4 177.2 L131.8 183.8 L133.4 189.3 L134.5 191.3" fill="none" stroke="#d2143c" stroke-width="1.65" stroke-linejoin="round" stroke-linecap="round"/>
<path d="M137.8 183.3 L138.9 187.1" fill="none" stroke="#d2143c" stroke-width="1.65" stroke-linejoin="round" stroke-linecap="round"/>
<path d="M141.9 155.3 L143.3 159.7 L144.4 167.4 L145.5 176.1 L146.5 182.7 L147.6 188.2 L149.1 193.1" fill="none" stroke="#d2143c" stroke-width="1.65" stroke-linejoin="round" stroke-linecap="round"/>
<path d="M151.3 174.8 L152.4 174.8 L153.1 183.8 L153.7 197.0 L154.2 211.4 L154.6 225.0 L155.3 256.3 L156.2 276.6 L158.1 279.0 L159.6 286.0 L161.5 291.0" fill="none" stroke="#d2143c" stroke-width="1.65" stroke-linejoin="round" stroke-linecap="round"/>
<path d="M167.2 248.5 L168.3 254.7" fill="none" stroke="#d2143c" stroke-width="1.65" stroke-linejoin="round" stroke-linecap="round"/>
<path d="M173.4 209.8 L174.0 213.0" fill="none" stroke="#d2143c" stroke-width="1.65" stroke-linejoin="round" stroke-linecap="round"/>
<path d="M177.6 198.9 L179.2 202.8" fill="none" stroke="#d2143c" stroke-width="1.65" stroke-linejoin="round" stroke-linecap="round"/>
<path d="M182.3 189.5 L183.9 192.6" fill="none" stroke="#d2143c" stroke-width="1.65" stroke-linejoin="round" stroke-linecap="round"/>
<path d="M186.6 179.3 L187.8 180.1" fill="none" stroke="#d2143c" stroke-width="1.65" stroke-linejoin="round" stroke-linecap="round"/>
<path d="M192.2 167.2 L193.3 170.7 L194.1 176.9 L196.4 181.6 L198.0 192.6 L198.8 206.7 L200.0 211.4" fill="none" stroke="#d2143c" stroke-width="1.65" stroke-linejoin="round" stroke-linecap="round"/>
<path d="M201.1 206.7 L202.7 208.2 L204.3 217.6 L204.8 232.0 L205.3 240.6 L206.6 256.3 L207.8 262.9 L209.4 263.3" fill="none" stroke="#d2143c" stroke-width="1.65" stroke-linejoin="round" stroke-linecap="round"/>
<path d="M212.1 250.8 L213.2 254.7" fill="none" stroke="#d2143c" stroke-width="1.65" stroke-linejoin="round" stroke-linecap="round"/>
<path d="M217.2 232.0 L218.3 232.8" fill="none" stroke="#d2143c" stroke-width="1.65" stroke-linejoin="round" stroke-linecap="round"/>
<path d="M219.4 230.5 L219.9 240.6 L220.4 256.3 L221.5 267.3 L222.2 269.6" fill="none" stroke="#d2143c" stroke-width="1.65" stroke-linejoin="round" stroke-linecap="round"/>
<path d="M223.0 266.5 L223.8 270.4" fill="none" stroke="#d2143c" stroke-width="1.65" stroke-linejoin="round" stroke-linecap="round"/>
<path d="M231.3 200.4 L232.4 206.7 L234.0 209.0" fill="none" stroke="#d2143c" stroke-width="1.65" stroke-linejoin="round" stroke-linecap="round"/>
<path d="M239.8 178.5 L241.8 181.6 L244.0 189.5 L245.6 191.0" fill="none" stroke="#d2143c" stroke-width="1.65" stroke-linejoin="round" stroke-linecap="round"/>
<path d="M248.4 182.4 L249.5 186.3 L250.3 190.3" fill="none" stroke="#d2143c" stroke-width="1.65" stroke-linejoin="round" stroke-linecap="round"/>
<path d="M251.1 188.5 L252.6 192.6 L254.2 197.3 L256.2 198.1 L257.3 208.2 L258.4 225.5 L259.6 226.2" fill="none" stroke="#d2143c" stroke-width="1.65" stroke-linejoin="round" stroke-linecap="round"/>
<path d="M262.5 216.1 L263.6 218.4" fill="none" stroke="#d2143c" stroke-width="1.65" stroke-linejoin="round" stroke-linecap="round"/>
<path d="M265.1 214.5 L267.5 215.3" fill="none" stroke="#d2143c" stroke-width="1.65" stroke-linejoin="round" stroke-linecap="round"/>
<path d="M280.5 177.0 L281.6 182.4 L282.8 191.0 L283.4 195.7" fill="none" stroke="#d2143c" stroke-width="1.65" stroke-linejoin="round" stroke-linecap="round"/>
<path d="M285.5 195.0 L287.0 197.3 L288.6 198.9" fill="none" stroke="#d2143c" stroke-width="1.65" stroke-linejoin="round" stroke-linecap="round"/>
<path d="M290.6 187.9 L291.7 190.3 L294.1 195.0" fill="none" stroke="#d2143c" stroke-width="1.65" stroke-linejoin="round" stroke-linecap="round"/>
<path d="M301.4 171.5 L302.7 177.0 L303.5 184.0 L305.0 187.1 L306.6 192.6 L308.2 199.6 L308.9 201.2" fill="none" stroke="#d2143c" stroke-width="1.65" stroke-linejoin="round" stroke-linecap="round"/>
<path d="M314.7 180.9 L316.0 184.8" fill="none" stroke="#d2143c" stroke-width="1.65" stroke-linejoin="round" stroke-linecap="round"/>
<path d="M326.2 158.6 L327.7 163.6 L330.1 168.3 L332.4 172.3" fill="none" stroke="#d2143c" stroke-width="1.65" stroke-linejoin="round" stroke-linecap="round"/>
<path d="M334.8 166.0 L336.3 167.6 L337.9 175.4 L339.5 191.0 L340.0 201.4 L342.8 208.5 L345.4 212.7 L346.3 226.1 L349.2 226.8 L350.6 239.4 L351.5 245.8" fill="none" stroke="#d2143c" stroke-width="1.65" stroke-linejoin="round" stroke-linecap="round"/>
<path d="M353.8 227.5 L355.5 228.2 L356.9 235.2 L358.3 240.1" fill="none" stroke="#d2143c" stroke-width="1.65" stroke-linejoin="round" stroke-linecap="round"/>
<path d="M365.2 199.3 L366.1 202.8 L367.5 212.0" fill="none" stroke="#d2143c" stroke-width="1.65" stroke-linejoin="round" stroke-linecap="round"/>
<path d="M373.1 203.9 L374.5 208.5 L376.3 218.3 L377.7 221.1 L379.2 231.7 L381.5 233.1 L383.0 240.8 L384.4 248.6 L385.4 249.3" fill="none" stroke="#d2143c" stroke-width="1.65" stroke-linejoin="round" stroke-linecap="round"/>
<path d="M387.2 233.1 L388.2 236.6 L389.3 248.6 L391.0 249.3" fill="none" stroke="#d2143c" stroke-width="1.65" stroke-linejoin="round" stroke-linecap="round"/>
<path d="M395.6 209.9 L396.6 214.1" fill="none" stroke="#d2143c" stroke-width="1.65" stroke-linejoin="round" stroke-linecap="round"/>
<path d="M400.3 203.2 L401.7 207.0 L403.1 215.5 L404.1 228.2 L404.8 242.3 L405.5 255.6" fill="none" stroke="#d2143c" stroke-width="1.65" stroke-linejoin="round" stroke-linecap="round"/>
<path d="M407.3 254.2 L408.3 257.7 L409.3 267.6 L410.4 273.2" fill="none" stroke="#d2143c" stroke-width="1.65" stroke-linejoin="round" stroke-linecap="round"/>
<path d="M411.5 270.4 L412.5 273.5" fill="none" stroke="#d2143c" stroke-width="1.65" stroke-linejoin="round" stroke-linecap="round"/>
<path d="M419.1 197.3 L420.7 199.6 L422.2 201.2" fill="none" stroke="#d2143c" stroke-width="1.65" stroke-linejoin="round" stroke-linecap="round"/>
<path d="M427.7 171.5 L429.3 171.5 L430.9 174.6 L432.4 175.4" fill="none" stroke="#d2143c" stroke-width="1.65" stroke-linejoin="round" stroke-linecap="round"/>
<path d="M437.9 168.0 L439.5 169.9 L441.8 171.5 L444.0 172.3" fill="none" stroke="#d2143c" stroke-width="1.65" stroke-linejoin="round" stroke-linecap="round"/>
<path d="M454.6 146.4 L456.5 147.2" fill="none" stroke="#d2143c" stroke-width="1.65" stroke-linejoin="round" stroke-linecap="round"/>
<path d="M458.9 146.0 L460.4 148.0 L461.5 153.5 L462.5 161.3 L464.3 166.8 L466.7 170.7 L469.0 171.5" fill="none" stroke="#d2143c" stroke-width="1.65" stroke-linejoin="round" stroke-linecap="round"/>
<path d="M471.4 171.0 L473.0 173.0 L474.5 174.6" fill="none" stroke="#d2143c" stroke-width="1.65" stroke-linejoin="round" stroke-linecap="round"/>
<path d="M480.8 158.5 L482.3 160.5 L483.9 162.1" fill="none" stroke="#d2143c" stroke-width="1.65" stroke-linejoin="round" stroke-linecap="round"/>
<path d="M485.0 160.5 L486.3 163.6 L487.8 168.3 L490.2 172.3 L492.5 174.6" fill="none" stroke="#d2143c" stroke-width="1.65" stroke-linejoin="round" stroke-linecap="round"/>
<path d="M495.3 169.9 L496.4 171.5 L497.5 177.0" fill="none" stroke="#d2143c" stroke-width="1.65" stroke-linejoin="round" stroke-linecap="round"/>
<path d="M498.8 173.8 L500.0 174.6 L501.1 181.6 L502.2 192.6 L503.5 197.3" fill="none" stroke="#d2143c" stroke-width="1.65" stroke-linejoin="round" stroke-linecap="round"/>
<path d="M507.4 182.4 L508.9 184.0" fill="none" stroke="#d2143c" stroke-width="1.65" stroke-linejoin="round" stroke-linecap="round"/>
<path d="M511.3 180.9 L512.4 184.0 L513.2 192.6 L514.0 195.0" fill="none" stroke="#d2143c" stroke-width="1.65" stroke-linejoin="round" stroke-linecap="round"/>
<path d="M516.8 185.6 L517.6 189.5 L518.8 195.7 L519.9 197.3 L521.5 202.0 L522.6 209.8 L523.5 215.3" fill="none" stroke="#d2143c" stroke-width="1.65" stroke-linejoin="round" stroke-linecap="round"/>
<path d="M524.3 210.6 L525.4 221.6" fill="none" stroke="#d2143c" stroke-width="1.65" stroke-linejoin="round" stroke-linecap="round"/>
<path d="M530.1 193.8 L531.6 196.5 L533.2 199.6" fill="none" stroke="#d2143c" stroke-width="1.65" stroke-linejoin="round" stroke-linecap="round"/>
<path d="M534.8 197.3 L535.5 200.4 L536.2 210.0 L537.6 218.5 L539.4 225.5" fill="none" stroke="#d2143c" stroke-width="1.65" stroke-linejoin="round" stroke-linecap="round"/>
<path d="M542.8 212.8 L544.2 217.7 L545.6 219.9 L547.0 231.1 L548.5 246.6 L549.9 266.3 L551.0 283.2 L552.1 300.3" fill="none" stroke="#d2143c" stroke-width="1.65" stroke-linejoin="round" stroke-linecap="round"/>
<path d="M560.6 236.1 L561.3 246.6 L562.0 253.0" fill="none" stroke="#d2143c" stroke-width="1.65" stroke-linejoin="round" stroke-linecap="round"/>
<path d="M566.5 216.3 L568.6 219.9" fill="none" stroke="#d2143c" stroke-width="1.65" stroke-linejoin="round" stroke-linecap="round"/>
<path d="M577.2 189.4 L579.2 191.9 L581.2 192.3 L582.3 198.5 L583.1 210.0 L584.5 218.5 L585.9 229.7 L586.9 236.1" fill="none" stroke="#d2143c" stroke-width="1.65" stroke-linejoin="round" stroke-linecap="round"/>
<path d="M587.6 232.5 L588.6 243.1" fill="none" stroke="#d2143c" stroke-width="1.65" stroke-linejoin="round" stroke-linecap="round"/>
<path d="M593.5 219.2 L594.3 220.4" fill="none" stroke="#d2143c" stroke-width="1.65" stroke-linejoin="round" stroke-linecap="round"/>
<path d="M601.9 196.2 L603.5 197.7 L605.8 198.8" fill="none" stroke="#d2143c" stroke-width="1.65" stroke-linejoin="round" stroke-linecap="round"/>
<path d="M607.8 194.6 L609.4 198.5 L611.0 199.3" fill="none" stroke="#d2143c" stroke-width="1.65" stroke-linejoin="round" stroke-linecap="round"/>
<path d="M612.5 193.8 L614.4 196.9 L616.8 198.5" fill="none" stroke="#d2143c" stroke-width="1.65" stroke-linejoin="round" stroke-linecap="round"/>
<path d="M620.6 189.4 L622.1 198.8 L622.9 213.8 L624.4 217.5" fill="none" stroke="#d2143c" stroke-width="1.65" stroke-linejoin="round" stroke-linecap="round"/>
<path d="M626.3 216.6 L627.8 225.0 L629.1 236.3 L630.4 239.1 L631.5 245.7" fill="none" stroke="#d2143c" stroke-width="1.65" stroke-linejoin="round" stroke-linecap="round"/>
<path d="M634.9 216.6 L636.0 226.9 L637.1 241.9 L637.9 255.0 L638.6 268.2 L639.0 273.0" fill="none" stroke="#d2143c" stroke-width="1.65" stroke-linejoin="round" stroke-linecap="round"/>
<path d="M46.7 173.0 L48.4 169.2 L50.0 166.4 L51.4 161.5" fill="none" stroke="#000" stroke-width="1.65" stroke-linejoin="round" stroke-linecap="round"/>
<path d="M58.2 215.7 L59.9 214.1 L61.0 212.4" fill="none" stroke="#000" stroke-width="1.65" stroke-linejoin="round" stroke-linecap="round"/>
<path d="M69.4 252.6 L70.0 241.3 L70.5 222.5 L71.4 207.0 L71.9 193.8 L72.7 180.7 L73.6 176.1" fill="none" stroke="#000" stroke-width="1.65" stroke-linejoin="round" stroke-linecap="round"/>
<path d="M85.7 391.4 L87.7 363.5" fill="none" stroke="#000" stroke-width="1.65" stroke-linejoin="round" stroke-linecap="round"/>
<path d="M89.5 371.3 L91.6 348.0 L92.2 290.0 L92.6 260.1 L93.1 246.3 L94.1 235.0 L95.1 220.0 L95.6 216.9" fill="none" stroke="#000" stroke-width="1.65" stroke-linejoin="round" stroke-linecap="round"/>
<path d="M101.4 348.0 L103.2 314.5 L104.1 290.0 L104.5 257.6" fill="none" stroke="#000" stroke-width="1.65" stroke-linejoin="round" stroke-linecap="round"/>
<path d="M106.6 265.1 L107.8 263.8 L108.5 257.6 L109.1 241.3 L109.7 222.5 L110.4 205.0 L111.0 183.8 L111.5 178.9" fill="none" stroke="#000" stroke-width="1.65" stroke-linejoin="round" stroke-linecap="round"/>
<path d="M112.9 180.0 L114.2 178.3 L115.3 175.6 L116.4 175.3" fill="none" stroke="#000" stroke-width="1.65" stroke-linejoin="round" stroke-linecap="round"/>
<path d="M118.9 228.8 L119.8 222.5 L121.0 212.0 L121.9 208.0 L123.0 201.3 L123.5 186.0 L124.3 166.3 L125.4 165.4 L126.8 165.2 L127.9 161.4 L128.5 160.3" fill="none" stroke="#000" stroke-width="1.65" stroke-linejoin="round" stroke-linecap="round"/>
<path d="M134.5 191.3 L135.6 187.1 L136.7 184.9 L137.8 183.3" fill="none" stroke="#000" stroke-width="1.65" stroke-linejoin="round" stroke-linecap="round"/>
<path d="M138.9 187.1 L139.6 181.6 L140.3 172.9 L141.1 161.9 L141.9 155.3" fill="none" stroke="#000" stroke-width="1.65" stroke-linejoin="round" stroke-linecap="round"/>
<path d="M149.1 193.1 L149.8 187.1 L150.6 177.2 L151.3 174.8" fill="none" stroke="#000" stroke-width="1.65" stroke-linejoin="round" stroke-linecap="round"/>
<path d="M161.5 291.0 L162.8 287.6 L164.3 282.9 L165.6 275.1 L166.2 264.1 L167.2 248.5" fill="none" stroke="#000" stroke-width="1.65" stroke-linejoin="round" stroke-linecap="round"/>
<path d="M168.3 254.7 L169.4 245.3 L170.6 231.3 L172.2 217.6 L173.4 209.8" fill="none" stroke="#000" stroke-width="1.65" stroke-linejoin="round" stroke-linecap="round"/>
<path d="M174.0 213.0 L175.3 206.7 L177.6 198.9" fill="none" stroke="#000" stroke-width="1.65" stroke-linejoin="round" stroke-linecap="round"/>
<path d="M179.2 202.8 L180.8 192.6 L182.3 189.5" fill="none" stroke="#000" stroke-width="1.65" stroke-linejoin="round" stroke-linecap="round"/>
<path d="M183.9 192.6 L185.5 183.2 L186.6 179.3" fill="none" stroke="#000" stroke-width="1.65" stroke-linejoin="round" stroke-linecap="round"/>
<path d="M187.8 180.1 L189.4 173.8 L190.9 168.3 L192.2 167.2" fill="none" stroke="#000" stroke-width="1.65" stroke-linejoin="round" stroke-linecap="round"/>
<path d="M200.0 211.4 L201.1 206.7" fill="none" stroke="#000" stroke-width="1.65" stroke-linejoin="round" stroke-linecap="round"/>
<path d="M209.4 263.3 L210.5 257.9 L212.1 250.8" fill="none" stroke="#000" stroke-width="1.65" stroke-linejoin="round" stroke-linecap="round"/>
<path d="M213.2 254.7 L214.4 243.8 L215.7 234.4 L217.2 232.0" fill="none" stroke="#000" stroke-width="1.65" stroke-linejoin="round" stroke-linecap="round"/>
<path d="M218.3 232.8 L219.4 230.5" fill="none" stroke="#000" stroke-width="1.65" stroke-linejoin="round" stroke-linecap="round"/>
<path d="M222.2 269.6 L223.0 266.5" fill="none" stroke="#000" stroke-width="1.65" stroke-linejoin="round" stroke-linecap="round"/>
<path d="M223.8 270.4 L224.6 264.1 L225.4 248.5 L226.6 236.0 L228.5 231.3 L229.3 217.6 L230.1 203.6 L231.3 200.4" fill="none" stroke="#000" stroke-width="1.65" stroke-linejoin="round" stroke-linecap="round"/>
<path d="M234.0 209.0 L235.5 205.1 L237.1 195.7 L238.7 183.2 L239.8 178.5" fill="none" stroke="#000" stroke-width="1.65" stroke-linejoin="round" stroke-linecap="round"/>
<path d="M245.6 191.0 L247.1 184.8 L248.4 182.4" fill="none" stroke="#000" stroke-width="1.65" stroke-linejoin="round" stroke-linecap="round"/>
<path d="M250.3 190.3 L251.1 188.5" fill="none" stroke="#000" stroke-width="1.65" stroke-linejoin="round" stroke-linecap="round"/>
<path d="M259.6 226.2 L261.2 222.3 L262.5 216.1" fill="none" stroke="#000" stroke-width="1.65" stroke-linejoin="round" stroke-linecap="round"/>
<path d="M263.6 218.4 L265.1 214.5" fill="none" stroke="#000" stroke-width="1.65" stroke-linejoin="round" stroke-linecap="round"/>
<path d="M267.5 215.3 L269.0 214.5 L270.3 208.2 L272.2 205.1 L274.5 200.4 L276.1 192.6 L277.6 183.2 L279.2 180.9 L280.5 177.0" fill="none" stroke="#000" stroke-width="1.65" stroke-linejoin="round" stroke-linecap="round"/>
<path d="M283.4 195.7 L285.5 195.0" fill="none" stroke="#000" stroke-width="1.65" stroke-linejoin="round" stroke-linecap="round"/>
<path d="M288.6 198.9 L289.4 192.6 L290.6 187.9" fill="none" stroke="#000" stroke-width="1.65" stroke-linejoin="round" stroke-linecap="round"/>
<path d="M294.1 195.0 L295.6 191.0 L297.2 183.2 L298.8 177.0 L300.3 173.0 L301.4 171.5" fill="none" stroke="#000" stroke-width="1.65" stroke-linejoin="round" stroke-linecap="round"/>
<path d="M308.9 201.2 L311.3 198.9 L312.1 192.6 L313.6 181.6 L314.7 180.9" fill="none" stroke="#000" stroke-width="1.65" stroke-linejoin="round" stroke-linecap="round"/>
<path d="M316.0 184.8 L317.6 181.6 L319.1 177.0 L320.7 167.6 L321.8 159.7 L323.8 159.0 L326.2 158.6" fill="none" stroke="#000" stroke-width="1.65" stroke-linejoin="round" stroke-linecap="round"/>
<path d="M332.4 172.3 L333.5 167.6 L334.8 166.0" fill="none" stroke="#000" stroke-width="1.65" stroke-linejoin="round" stroke-linecap="round"/>
<path d="M351.5 245.8 L353.0 235.2 L353.8 227.5" fill="none" stroke="#000" stroke-width="1.65" stroke-linejoin="round" stroke-linecap="round"/>
<path d="M358.3 240.1 L359.4 231.0 L360.4 214.1 L362.5 207.0 L364.2 201.4 L365.2 199.3" fill="none" stroke="#000" stroke-width="1.65" stroke-linejoin="round" stroke-linecap="round"/>
<path d="M367.5 212.0 L368.9 207.0 L370.3 204.2 L373.1 203.9" fill="none" stroke="#000" stroke-width="1.65" stroke-linejoin="round" stroke-linecap="round"/>
<path d="M385.4 249.3 L386.2 235.2 L387.2 233.1" fill="none" stroke="#000" stroke-width="1.65" stroke-linejoin="round" stroke-linecap="round"/>
<path d="M391.0 249.3 L392.4 243.7 L393.8 235.2 L394.9 218.3 L395.6 209.9" fill="none" stroke="#000" stroke-width="1.65" stroke-linejoin="round" stroke-linecap="round"/>
<path d="M396.6 214.1 L397.7 209.2 L399.2 204.9 L400.3 203.2" fill="none" stroke="#000" stroke-width="1.65" stroke-linejoin="round" stroke-linecap="round"/>
<path d="M405.5 255.6 L407.3 254.2" fill="none" stroke="#000" stroke-width="1.65" stroke-linejoin="round" stroke-linecap="round"/>
<path d="M410.4 273.2 L411.5 270.4" fill="none" stroke="#000" stroke-width="1.65" stroke-linejoin="round" stroke-linecap="round"/>
<path d="M412.5 273.5 L413.5 267.6 L414.4 256.3 L415.1 242.3 L415.8 228.2 L416.3 214.1 L416.8 203.6 L418.3 198.9 L419.1 197.3" fill="none" stroke="#000" stroke-width="1.65" stroke-linejoin="round" stroke-linecap="round"/>
<path d="M422.2 201.2 L423.5 192.6 L424.6 178.5 L426.2 173.0 L427.7 171.5" fill="none" stroke="#000" stroke-width="1.65" stroke-linejoin="round" stroke-linecap="round"/>
<path d="M432.4 175.4 L434.0 174.6 L435.5 171.5 L436.6 168.3 L437.9 168.0" fill="none" stroke="#000" stroke-width="1.65" stroke-linejoin="round" stroke-linecap="round"/>
<path d="M444.0 172.3 L445.6 169.1 L447.1 166.0 L448.4 155.0 L449.9 149.6 L451.8 148.8 L453.4 148.2 L454.6 146.4" fill="none" stroke="#000" stroke-width="1.65" stroke-linejoin="round" stroke-linecap="round"/>
<path d="M456.5 147.2 L458.9 146.0" fill="none" stroke="#000" stroke-width="1.65" stroke-linejoin="round" stroke-linecap="round"/>
<path d="M469.0 171.5 L471.4 171.0" fill="none" stroke="#000" stroke-width="1.65" stroke-linejoin="round" stroke-linecap="round"/>
<path d="M474.5 174.6 L476.1 170.7 L477.2 163.6 L478.7 159.7 L480.8 158.5" fill="none" stroke="#000" stroke-width="1.65" stroke-linejoin="round" stroke-linecap="round"/>
<path d="M483.9 162.1 L485.0 160.5" fill="none" stroke="#000" stroke-width="1.65" stroke-linejoin="round" stroke-linecap="round"/>
<path d="M492.5 174.6 L493.8 171.5 L495.3 169.9" fill="none" stroke="#000" stroke-width="1.65" stroke-linejoin="round" stroke-linecap="round"/>
<path d="M497.5 177.0 L498.8 173.8" fill="none" stroke="#000" stroke-width="1.65" stroke-linejoin="round" stroke-linecap="round"/>
<path d="M503.5 197.3 L504.3 189.5 L505.3 183.2 L507.4 182.4" fill="none" stroke="#000" stroke-width="1.65" stroke-linejoin="round" stroke-linecap="round"/>
<path d="M508.9 184.0 L511.3 180.9" fill="none" stroke="#000" stroke-width="1.65" stroke-linejoin="round" stroke-linecap="round"/>
<path d="M514.0 195.0 L515.2 189.5 L516.8 185.6" fill="none" stroke="#000" stroke-width="1.65" stroke-linejoin="round" stroke-linecap="round"/>
<path d="M523.5 215.3 L524.3 210.6" fill="none" stroke="#000" stroke-width="1.65" stroke-linejoin="round" stroke-linecap="round"/>
<path d="M525.4 221.6 L526.2 212.9 L527.3 202.0 L528.5 195.7 L530.1 193.8" fill="none" stroke="#000" stroke-width="1.65" stroke-linejoin="round" stroke-linecap="round"/>
<path d="M533.2 199.6 L534.8 197.3" fill="none" stroke="#000" stroke-width="1.65" stroke-linejoin="round" stroke-linecap="round"/>
<path d="M539.4 225.5 L540.8 221.3 L542.3 214.2 L542.8 212.8" fill="none" stroke="#000" stroke-width="1.65" stroke-linejoin="round" stroke-linecap="round"/>
<path d="M552.1 300.3 L553.5 294.5 L554.9 283.2 L555.9 277.6 L556.9 274.1 L557.3 259.3 L558.0 243.8 L559.2 238.2 L560.6 236.1" fill="none" stroke="#000" stroke-width="1.65" stroke-linejoin="round" stroke-linecap="round"/>
<path d="M562.0 253.0 L562.7 245.2 L563.7 228.3 L565.1 218.5 L566.5 216.3" fill="none" stroke="#000" stroke-width="1.65" stroke-linejoin="round" stroke-linecap="round"/>
<path d="M568.6 219.9 L569.6 215.6 L570.4 206.0 L570.6 204.8 L572.2 195.4 L573.7 191.5 L576.1 189.9 L577.2 189.4" fill="none" stroke="#000" stroke-width="1.65" stroke-linejoin="round" stroke-linecap="round"/>
<path d="M586.9 236.1 L587.6 232.5" fill="none" stroke="#000" stroke-width="1.65" stroke-linejoin="round" stroke-linecap="round"/>
<path d="M588.6 243.1 L589.3 231.1 L590.1 224.1 L591.8 220.6 L593.5 219.2" fill="none" stroke="#000" stroke-width="1.65" stroke-linejoin="round" stroke-linecap="round"/>
<path d="M594.3 220.4 L595.4 214.2 L596.1 210.0 L596.4 202.4 L598.0 200.9 L600.3 200.1 L601.9 196.2" fill="none" stroke="#000" stroke-width="1.65" stroke-linejoin="round" stroke-linecap="round"/>
<path d="M605.8 198.8 L607.8 194.6" fill="none" stroke="#000" stroke-width="1.65" stroke-linejoin="round" stroke-linecap="round"/>
<path d="M611.0 199.3 L612.5 193.8" fill="none" stroke="#000" stroke-width="1.65" stroke-linejoin="round" stroke-linecap="round"/>
<path d="M616.8 198.5 L618.8 195.4 L620.6 189.4" fill="none" stroke="#000" stroke-width="1.65" stroke-linejoin="round" stroke-linecap="round"/>
<path d="M624.4 217.5 L626.3 216.6" fill="none" stroke="#000" stroke-width="1.65" stroke-linejoin="round" stroke-linecap="round"/>
<path d="M631.5 245.7 L633.4 241.9 L634.1 226.9 L634.9 216.6" fill="none" stroke="#000" stroke-width="1.65" stroke-linejoin="round" stroke-linecap="round"/>
<path d="M639.0 273.0 L639.4 270.5" fill="none" stroke="#000" stroke-width="1.65" stroke-linejoin="round" stroke-linecap="round"/>
<rect x="43.5" y="127.5" width="601.0" height="283.0" fill="none" stroke="#bcbcbc" stroke-width="1"/>
<line x1="40.5" y1="134.5" x2="43.5" y2="134.5" stroke="#b4b4b4" stroke-width="1"/>
<text x="20.0" y="136.8" font-family="Liberation Sans, sans-serif" font-size="9.60" text-anchor="start" font-weight="normal" fill="#000" stroke="#000" stroke-width="0.15" textLength="11.3" lengthAdjust="spacingAndGlyphs">80</text>
<text x="32.6" y="136.8" font-family="Liberation Sans, sans-serif" font-size="9.60" text-anchor="start" font-weight="normal" fill="#000" stroke="#000" stroke-width="0.15" textLength="7.6" lengthAdjust="spacingAndGlyphs">%</text>
<line x1="40.5" y1="156.5" x2="43.5" y2="156.5" stroke="#b4b4b4" stroke-width="1"/>
<text x="20.0" y="158.8" font-family="Liberation Sans, sans-serif" font-size="9.60" text-anchor="start" font-weight="normal" fill="#000" stroke="#000" stroke-width="0.15" textLength="11.3" lengthAdjust="spacingAndGlyphs">70</text>
<text x="32.6" y="158.8" font-family="Liberation Sans, sans-serif" font-size="9.60" text-anchor="start" font-weight="normal" fill="#000" stroke="#000" stroke-width="0.15" textLength="7.6" lengthAdjust="spacingAndGlyphs">%</text>
<line x1="40.5" y1="177.5" x2="43.5" y2="177.5" stroke="#b4b4b4" stroke-width="1"/>
<text x="20.0" y="179.8" font-family="Liberation Sans, sans-serif" font-size="9.60" text-anchor="start" font-weight="normal" fill="#000" stroke="#000" stroke-width="0.15" textLength="11.3" lengthAdjust="spacingAndGlyphs">60</text>
<text x="32.6" y="179.8" font-family="Liberation Sans, sans-serif" font-size="9.60" text-anchor="start" font-weight="normal" fill="#000" stroke="#000" stroke-width="0.15" textLength="7.6" lengthAdjust="spacingAndGlyphs">%</text>
<line x1="40.5" y1="199.5" x2="43.5" y2="199.5" stroke="#b4b4b4" stroke-width="1"/>
<text x="20.0" y="201.8" font-family="Liberation Sans, sans-serif" font-size="9.60" text-anchor="start" font-weight="normal" fill="#000" stroke="#000" stroke-width="0.15" textLength="11.3" lengthAdjust="spacingAndGlyphs">50</text>
<text x="32.6" y="201.8" font-family="Liberation Sans, sans-serif" font-size="9.60" text-anchor="start" font-weight="normal" fill="#000" stroke="#000" stroke-width="0.15" textLength="7.6" lengthAdjust="spacingAndGlyphs">%</text>
<line x1="40.5" y1="220.5" x2="43.5" y2="220.5" stroke="#b4b4b4" stroke-width="1"/>
<text x="20.0" y="222.8" font-family="Liberation Sans, sans-serif" font-size="9.60" text-anchor="start" font-weight="normal" fill="#000" stroke="#000" stroke-width="0.15" textLength="11.3" lengthAdjust="spacingAndGlyphs">40</text>
<text x="32.6" y="222.8" font-family="Liberation Sans, sans-serif" font-size="9.60" text-anchor="start" font-weight="normal" fill="#000" stroke="#000" stroke-width="0.15" textLength="7.6" lengthAdjust="spacingAndGlyphs">%</text>
<line x1="40.5" y1="242.5" x2="43.5" y2="242.5" stroke="#b4b4b4" stroke-width="1"/>
<text x="20.0" y="244.8" font-family="Liberation Sans, sans-serif" font-size="9.60" text-anchor="start" font-weight="normal" fill="#000" stroke="#000" stroke-width="0.15" textLength="11.3" lengthAdjust="spacingAndGlyphs">30</text>
<text x="32.6" y="244.8" font-family="Liberation Sans, sans-serif" font-size="9.60" text-anchor="start" font-weight="normal" fill="#000" stroke="#000" stroke-width="0.15" textLength="7.6" lengthAdjust="spacingAndGlyphs">%</text>
<line x1="40.5" y1="263.5" x2="43.5" y2="263.5" stroke="#b4b4b4" stroke-width="1"/>
<text x="20.0" y="265.8" font-family="Liberation Sans, sans-serif" font-size="9.60" text-anchor="start" font-weight="normal" fill="#000" stroke="#000" stroke-width="0.15" textLength="11.3" lengthAdjust="spacingAndGlyphs">20</text>
<text x="32.6" y="265.8" font-family="Liberation Sans, sans-serif" font-size="9.60" text-anchor="start" font-weight="normal" fill="#000" stroke="#000" stroke-width="0.15" textLength="7.6" lengthAdjust="spacingAndGlyphs">%</text>
<line x1="40.5" y1="285.5" x2="43.5" y2="285.5" stroke="#b4b4b4" stroke-width="1"/>
<text x="20.0" y="287.8" font-family="Liberation Sans, sans-serif" font-size="9.60" text-anchor="start" font-weight="normal" fill="#000" stroke="#000" stroke-width="0.15" textLength="11.3" lengthAdjust="spacingAndGlyphs">10</text>
<text x="32.6" y="287.8" font-family="Liberation Sans, sans-serif" font-size="9.60" text-anchor="start" font-weight="normal" fill="#000" stroke="#000" stroke-width="0.15" textLength="7.6" lengthAdjust="spacingAndGlyphs">%</text>
<line x1="40.5" y1="307.5" x2="43.5" y2="307.5" stroke="#b4b4b4" stroke-width="1"/>
<text x="25.7" y="309.8" font-family="Liberation Sans, sans-serif" font-size="9.60" text-anchor="start" font-weight="normal" fill="#000" stroke="#000" stroke-width="0.15" textLength="5.7" lengthAdjust="spacingAndGlyphs">0</text>
<text x="32.6" y="309.8" font-family="Liberation Sans, sans-serif" font-size="9.60" text-anchor="start" font-weight="normal" fill="#000" stroke="#000" stroke-width="0.15" textLength="7.6" lengthAdjust="spacingAndGlyphs">%</text>
<line x1="40.5" y1="328.5" x2="43.5" y2="328.5" stroke="#b4b4b4" stroke-width="1"/>
<text x="17.0" y="330.8" font-family="Liberation Sans, sans-serif" font-size="9.60" text-anchor="start" font-weight="normal" fill="#000" stroke="#000" stroke-width="0.15" textLength="14.3" lengthAdjust="spacingAndGlyphs">-10</text>
<text x="32.6" y="330.8" font-family="Liberation Sans, sans-serif" font-size="9.60" text-anchor="start" font-weight="normal" fill="#000" stroke="#000" stroke-width="0.15" textLength="7.6" lengthAdjust="spacingAndGlyphs">%</text>
<line x1="40.5" y1="350.5" x2="43.5" y2="350.5" stroke="#b4b4b4" stroke-width="1"/>
<text x="17.0" y="352.8" font-family="Liberation Sans, sans-serif" font-size="9.60" text-anchor="start" font-weight="normal" fill="#000" stroke="#000" stroke-width="0.15" textLength="14.3" lengthAdjust="spacingAndGlyphs">-20</text>
<text x="32.6" y="352.8" font-family="Liberation Sans, sans-serif" font-size="9.60" text-anchor="start" font-weight="normal" fill="#000" stroke="#000" stroke-width="0.15" textLength="7.6" lengthAdjust="spacingAndGlyphs">%</text>
<line x1="40.5" y1="371.5" x2="43.5" y2="371.5" stroke="#b4b4b4" stroke-width="1"/>
<text x="17.0" y="373.8" font-family="Liberation Sans, sans-serif" font-size="9.60" text-anchor="start" font-weight="normal" fill="#000" stroke="#000" stroke-width="0.15" textLength="14.3" lengthAdjust="spacingAndGlyphs">-30</text>
<text x="32.6" y="373.8" font-family="Liberation Sans, sans-serif" font-size="9.60" text-anchor="start" font-weight="normal" fill="#000" stroke="#000" stroke-width="0.15" textLength="7.6" lengthAdjust="spacingAndGlyphs">%</text>
<line x1="40.5" y1="393.5" x2="43.5" y2="393.5" stroke="#b4b4b4" stroke-width="1"/>
<text x="17.0" y="395.8" font-family="Liberation Sans, sans-serif" font-size="9.60" text-anchor="start" font-weight="normal" fill="#000" stroke="#000" stroke-width="0.15" textLength="14.3" lengthAdjust="spacingAndGlyphs">-40</text>
<text x="32.6" y="395.8" font-family="Liberation Sans, sans-serif" font-size="9.60" text-anchor="start" font-weight="normal" fill="#000" stroke="#000" stroke-width="0.15" textLength="7.6" lengthAdjust="spacingAndGlyphs">%</text>
<line x1="644.5" y1="402.5" x2="646.0" y2="402.5" stroke="#b4b4b4" stroke-width="1"/>
<line x1="644.5" y1="391.5" x2="646.0" y2="391.5" stroke="#b4b4b4" stroke-width="1"/>
<line x1="644.5" y1="381.5" x2="646.0" y2="381.5" stroke="#b4b4b4" stroke-width="1"/>
<line x1="644.5" y1="371.5" x2="646.0" y2="371.5" stroke="#b4b4b4" stroke-width="1"/>
<line x1="644.5" y1="363.5" x2="646.0" y2="363.5" stroke="#b4b4b4" stroke-width="1"/>
<line x1="644.5" y1="354.5" x2="646.0" y2="354.5" stroke="#b4b4b4" stroke-width="1"/>
<line x1="644.5" y1="347.5" x2="646.0" y2="347.5" stroke="#b4b4b4" stroke-width="1"/>
<line x1="644.5" y1="340.5" x2="646.0" y2="340.5" stroke="#b4b4b4" stroke-width="1"/>
<line x1="644.5" y1="333.5" x2="646.0" y2="333.5" stroke="#b4b4b4" stroke-width="1"/>
<line x1="644.5" y1="327.5" x2="646.0" y2="327.5" stroke="#b4b4b4" stroke-width="1"/>
<line x1="644.5" y1="321.5" x2="646.0" y2="321.5" stroke="#b4b4b4" stroke-width="1"/>
<line x1="644.5" y1="315.5" x2="646.0" y2="315.5" stroke="#b4b4b4" stroke-width="1"/>
<line x1="644.5" y1="310.5" x2="646.0" y2="310.5" stroke="#b4b4b4" stroke-width="1"/>
<line x1="644.5" y1="304.5" x2="646.0" y2="304.5" stroke="#b4b4b4" stroke-width="1"/>
<line x1="644.5" y1="300.5" x2="646.0" y2="300.5" stroke="#b4b4b4" stroke-width="1"/>
<line x1="644.5" y1="295.5" x2="646.0" y2="295.5" stroke="#b4b4b4" stroke-width="1"/>
<line x1="644.5" y1="290.5" x2="646.0" y2="290.5" stroke="#b4b4b4" stroke-width="1"/>
<line x1="644.5" y1="286.5" x2="646.0" y2="286.5" stroke="#b4b4b4" stroke-width="1"/>
<line x1="644.5" y1="281.5" x2="646.0" y2="281.5" stroke="#b4b4b4" stroke-width="1"/>
<line x1="644.5" y1="277.5" x2="646.0" y2="277.5" stroke="#b4b4b4" stroke-width="1"/>
<line x1="644.5" y1="273.5" x2="646.0" y2="273.5" stroke="#b4b4b4" stroke-width="1"/>
<line x1="644.5" y1="270.5" x2="646.0" y2="270.5" stroke="#b4b4b4" stroke-width="1"/>
<line x1="644.5" y1="266.5" x2="646.0" y2="266.5" stroke="#b4b4b4" stroke-width="1"/>
<line x1="644.5" y1="262.5" x2="646.0" y2="262.5" stroke="#b4b4b4" stroke-width="1"/>
<line x1="644.5" y1="259.5" x2="646.0" y2="259.5" stroke="#b4b4b4" stroke-width="1"/>
<line x1="644.5" y1="255.5" x2="646.0" y2="255.5" stroke="#b4b4b4" stroke-width="1"/>
<line x1="644.5" y1="252.5" x2="646.0" y2="252.5" stroke="#b4b4b4" stroke-width="1"/>
<line x1="644.5" y1="249.5" x2="646.0" y2="249.5" stroke="#b4b4b4" stroke-width="1"/>
<line x1="644.5" y1="246.5" x2="646.0" y2="246.5" stroke="#b4b4b4" stroke-width="1"/>
<line x1="644.5" y1="243.5" x2="646.0" y2="243.5" stroke="#b4b4b4" stroke-width="1"/>
<line x1="644.5" y1="240.5" x2="646.0" y2="240.5" stroke="#b4b4b4" stroke-width="1"/>
<line x1="644.5" y1="237.5" x2="646.0" y2="237.5" stroke="#b4b4b4" stroke-width="1"/>
<line x1="644.5" y1="234.5" x2="646.0" y2="234.5" stroke="#b4b4b4" stroke-width="1"/>
<line x1="644.5" y1="231.5" x2="646.0" y2="231.5" stroke="#b4b4b4" stroke-width="1"/>
<line x1="644.5" y1="229.5" x2="646.0" y2="229.5" stroke="#b4b4b4" stroke-width="1"/>
<line x1="644.5" y1="226.5" x2="646.0" y2="226.5" stroke="#b4b4b4" stroke-width="1"/>
<line x1="644.5" y1="223.5" x2="646.0" y2="223.5" stroke="#b4b4b4" stroke-width="1"/>
<line x1="644.5" y1="221.5" x2="646.0" y2="221.5" stroke="#b4b4b4" stroke-width="1"/>
<line x1="644.5" y1="218.5" x2="646.0" y2="218.5" stroke="#b4b4b4" stroke-width="1"/>
<line x1="644.5" y1="216.5" x2="646.0" y2="216.5" stroke="#b4b4b4" stroke-width="1"/>
<line x1="644.5" y1="214.5" x2="646.0" y2="214.5" stroke="#b4b4b4" stroke-width="1"/>
<line x1="644.5" y1="211.5" x2="646.0" y2="211.5" stroke="#b4b4b4" stroke-width="1"/>
<line x1="644.5" y1="209.5" x2="646.0" y2="209.5" stroke="#b4b4b4" stroke-width="1"/>
<line x1="644.5" y1="207.5" x2="646.0" y2="207.5" stroke="#b4b4b4" stroke-width="1"/>
<line x1="644.5" y1="205.5" x2="646.0" y2="205.5" stroke="#b4b4b4" stroke-width="1"/>
<line x1="644.5" y1="203.5" x2="646.0" y2="203.5" stroke="#b4b4b4" stroke-width="1"/>
<line x1="644.5" y1="200.5" x2="646.0" y2="200.5" stroke="#b4b4b4" stroke-width="1"/>
<line x1="644.5" y1="198.5" x2="646.0" y2="198.5" stroke="#b4b4b4" stroke-width="1"/>
<line x1="644.5" y1="196.5" x2="646.0" y2="196.5" stroke="#b4b4b4" stroke-width="1"/>
<line x1="644.5" y1="194.5" x2="646.0" y2="194.5" stroke="#b4b4b4" stroke-width="1"/>
<line x1="644.5" y1="192.5" x2="646.0" y2="192.5" stroke="#b4b4b4" stroke-width="1"/>
<line x1="644.5" y1="190.5" x2="646.0" y2="190.5" stroke="#b4b4b4" stroke-width="1"/>
<line x1="644.5" y1="188.5" x2="646.0" y2="188.5" stroke="#b4b4b4" stroke-width="1"/>
<line x1="644.5" y1="187.5" x2="646.0" y2="187.5" stroke="#b4b4b4" stroke-width="1"/>
<line x1="644.5" y1="185.5" x2="646.0" y2="185.5" stroke="#b4b4b4" stroke-width="1"/>
<line x1="644.5" y1="183.5" x2="646.0" y2="183.5" stroke="#b4b4b4" stroke-width="1"/>
<line x1="644.5" y1="181.5" x2="646.0" y2="181.5" stroke="#b4b4b4" stroke-width="1"/>
<line x1="644.5" y1="179.5" x2="646.0" y2="179.5" stroke="#b4b4b4" stroke-width="1"/>
<line x1="644.5" y1="178.5" x2="646.0" y2="178.5" stroke="#b4b4b4" stroke-width="1"/>
<line x1="644.5" y1="176.5" x2="646.0" y2="176.5" stroke="#b4b4b4" stroke-width="1"/>
<line x1="644.5" y1="174.5" x2="646.0" y2="174.5" stroke="#b4b4b4" stroke-width="1"/>
<line x1="644.5" y1="173.5" x2="646.0" y2="173.5" stroke="#b4b4b4" stroke-width="1"/>
<line x1="644.5" y1="171.5" x2="646.0" y2="171.5" stroke="#b4b4b4" stroke-width="1"/>
<line x1="644.5" y1="169.5" x2="646.0" y2="169.5" stroke="#b4b4b4" stroke-width="1"/>
<line x1="644.5" y1="168.5" x2="646.0" y2="168.5" stroke="#b4b4b4" stroke-width="1"/>
<line x1="644.5" y1="166.5" x2="646.0" y2="166.5" stroke="#b4b4b4" stroke-width="1"/>
<line x1="644.5" y1="165.5" x2="646.0" y2="165.5" stroke="#b4b4b4" stroke-width="1"/>
<line x1="644.5" y1="163.5" x2="646.0" y2="163.5" stroke="#b4b4b4" stroke-width="1"/>
<line x1="644.5" y1="162.5" x2="646.0" y2="162.5" stroke="#b4b4b4" stroke-width="1"/>
<line x1="644.5" y1="160.5" x2="646.0" y2="160.5" stroke="#b4b4b4" stroke-width="1"/>
<line x1="644.5" y1="159.5" x2="646.0" y2="159.5" stroke="#b4b4b4" stroke-width="1"/>
<line x1="644.5" y1="157.5" x2="646.0" y2="157.5" stroke="#b4b4b4" stroke-width="1"/>
<line x1="644.5" y1="156.5" x2="646.0" y2="156.5" stroke="#b4b4b4" stroke-width="1"/>
<line x1="644.5" y1="154.5" x2="646.0" y2="154.5" stroke="#b4b4b4" stroke-width="1"/>
<line x1="644.5" y1="153.5" x2="646.0" y2="153.5" stroke="#b4b4b4" stroke-width="1"/>
<line x1="644.5" y1="152.5" x2="646.0" y2="152.5" stroke="#b4b4b4" stroke-width="1"/>
<line x1="644.5" y1="150.5" x2="646.0" y2="150.5" stroke="#b4b4b4" stroke-width="1"/>
<line x1="644.5" y1="149.5" x2="646.0" y2="149.5" stroke="#b4b4b4" stroke-width="1"/>
<line x1="644.5" y1="148.5" x2="646.0" y2="148.5" stroke="#b4b4b4" stroke-width="1"/>
<line x1="644.5" y1="146.5" x2="646.0" y2="146.5" stroke="#b4b4b4" stroke-width="1"/>
<line x1="644.5" y1="145.5" x2="646.0" y2="145.5" stroke="#b4b4b4" stroke-width="1"/>
<line x1="644.5" y1="144.5" x2="646.0" y2="144.5" stroke="#b4b4b4" stroke-width="1"/>
<line x1="644.5" y1="142.5" x2="646.0" y2="142.5" stroke="#b4b4b4" stroke-width="1"/>
<line x1="644.5" y1="141.5" x2="646.0" y2="141.5" stroke="#b4b4b4" stroke-width="1"/>
<line x1="644.5" y1="140.5" x2="646.0" y2="140.5" stroke="#b4b4b4" stroke-width="1"/>
<line x1="644.5" y1="145.5" x2="647.5" y2="145.5" stroke="#b4b4b4" stroke-width="1"/>
<line x1="644.5" y1="152.5" x2="647.5" y2="152.5" stroke="#b4b4b4" stroke-width="1"/>
<line x1="644.5" y1="159.5" x2="647.5" y2="159.5" stroke="#b4b4b4" stroke-width="1"/>
<line x1="644.5" y1="166.5" x2="647.5" y2="166.5" stroke="#b4b4b4" stroke-width="1"/>
<line x1="644.5" y1="174.5" x2="647.5" y2="174.5" stroke="#b4b4b4" stroke-width="1"/>
<line x1="644.5" y1="183.5" x2="647.5" y2="183.5" stroke="#b4b4b4" stroke-width="1"/>
<line x1="644.5" y1="192.5" x2="647.5" y2="192.5" stroke="#b4b4b4" stroke-width="1"/>
<line x1="644.5" y1="203.5" x2="647.5" y2="203.5" stroke="#b4b4b4" stroke-width="1"/>
<line x1="644.5" y1="214.5" x2="647.5" y2="214.5" stroke="#b4b4b4" stroke-width="1"/>
<line x1="644.5" y1="226.5" x2="647.5" y2="226.5" stroke="#b4b4b4" stroke-width="1"/>
<line x1="644.5" y1="240.5" x2="647.5" y2="240.5" stroke="#b4b4b4" stroke-width="1"/>
<line x1="644.5" y1="255.5" x2="647.5" y2="255.5" stroke="#b4b4b4" stroke-width="1"/>
<line x1="644.5" y1="273.5" x2="647.5" y2="273.5" stroke="#b4b4b4" stroke-width="1"/>
<line x1="644.5" y1="295.5" x2="647.5" y2="295.5" stroke="#b4b4b4" stroke-width="1"/>
<line x1="644.5" y1="321.5" x2="647.5" y2="321.5" stroke="#b4b4b4" stroke-width="1"/>
<line x1="644.5" y1="354.5" x2="647.5" y2="354.5" stroke="#b4b4b4" stroke-width="1"/>
<line x1="644.5" y1="402.5" x2="647.5" y2="402.5" stroke="#b4b4b4" stroke-width="1"/>
<text x="648.2" y="147.3" font-family="Liberation Sans, sans-serif" font-size="9.60" text-anchor="start" font-weight="normal" fill="#000" stroke="#000" stroke-width="0.15" textLength="11.3" lengthAdjust="spacingAndGlyphs">90</text>
<text x="648.2" y="153.9" font-family="Liberation Sans, sans-serif" font-size="9.60" text-anchor="start" font-weight="normal" fill="#000" stroke="#000" stroke-width="0.15" textLength="11.3" lengthAdjust="spacingAndGlyphs">85</text>
<text x="648.2" y="161.6" font-family="Liberation Sans, sans-serif" font-size="9.60" text-anchor="start" font-weight="normal" fill="#000" stroke="#000" stroke-width="0.15" textLength="11.3" lengthAdjust="spacingAndGlyphs">80</text>
<text x="648.2" y="169.8" font-family="Liberation Sans, sans-serif" font-size="9.60" text-anchor="start" font-weight="normal" fill="#000" stroke="#000" stroke-width="0.15" textLength="11.3" lengthAdjust="spacingAndGlyphs">75</text>
<text x="648.2" y="178.1" font-family="Liberation Sans, sans-serif" font-size="9.60" text-anchor="start" font-weight="normal" fill="#000" stroke="#000" stroke-width="0.15" textLength="11.3" lengthAdjust="spacingAndGlyphs">70</text>
<text x="648.2" y="185.7" font-family="Liberation Sans, sans-serif" font-size="9.60" text-anchor="start" font-weight="normal" fill="#000" stroke="#000" stroke-width="0.15" textLength="11.3" lengthAdjust="spacingAndGlyphs">65</text>
<text x="648.2" y="196.1" font-family="Liberation Sans, sans-serif" font-size="9.60" text-anchor="start" font-weight="normal" fill="#000" stroke="#000" stroke-width="0.15" textLength="11.3" lengthAdjust="spacingAndGlyphs">60</text>
<text x="648.2" y="206.0" font-family="Liberation Sans, sans-serif" font-size="9.60" text-anchor="start" font-weight="normal" fill="#000" stroke="#000" stroke-width="0.15" textLength="11.3" lengthAdjust="spacingAndGlyphs">55</text>
<text x="648.2" y="216.8" font-family="Liberation Sans, sans-serif" font-size="9.60" text-anchor="start" font-weight="normal" fill="#000" stroke="#000" stroke-width="0.15" textLength="11.3" lengthAdjust="spacingAndGlyphs">50</text>
<text x="648.2" y="229.0" font-family="Liberation Sans, sans-serif" font-size="9.60" text-anchor="start" font-weight="normal" fill="#000" stroke="#000" stroke-width="0.15" textLength="11.3" lengthAdjust="spacingAndGlyphs">45</text>
<text x="648.2" y="258.5" font-family="Liberation Sans, sans-serif" font-size="9.60" text-anchor="start" font-weight="normal" fill="#000" stroke="#000" stroke-width="0.15" textLength="11.3" lengthAdjust="spacingAndGlyphs">35</text>
<text x="648.2" y="277.5" font-family="Liberation Sans, sans-serif" font-size="9.60" text-anchor="start" font-weight="normal" fill="#000" stroke="#000" stroke-width="0.15" textLength="11.3" lengthAdjust="spacingAndGlyphs">30</text>
<text x="648.2" y="297.9" font-family="Liberation Sans, sans-serif" font-size="9.60" text-anchor="start" font-weight="normal" fill="#000" stroke="#000" stroke-width="0.15" textLength="11.3" lengthAdjust="spacingAndGlyphs">25</text>
<text x="648.2" y="323.7" font-family="Liberation Sans, sans-serif" font-size="9.60" text-anchor="start" font-weight="normal" fill="#000" stroke="#000" stroke-width="0.15" textLength="11.3" lengthAdjust="spacingAndGlyphs">20</text>
<text x="648.2" y="357.5" font-family="Liberation Sans, sans-serif" font-size="9.60" text-anchor="start" font-weight="normal" fill="#000" stroke="#000" stroke-width="0.15" textLength="11.3" lengthAdjust="spacingAndGlyphs">15</text>
<text x="648.2" y="404.3" font-family="Liberation Sans, sans-serif" font-size="9.60" text-anchor="start" font-weight="normal" fill="#000" stroke="#000" stroke-width="0.15" textLength="11.3" lengthAdjust="spacingAndGlyphs">10</text>
<path d="M128.8 139.7 h25.6 v9.5 h-7.8 l-5.0 5.0 l-5.0 -5.0 h-7.8 Z" fill="#fff" fill-opacity="0.93" stroke="#c4c4c4" stroke-width="0.9"/>
<text x="130.7" y="147.7" font-family="Liberation Sans, sans-serif" font-size="9.40" text-anchor="start" font-weight="normal" fill="#000" textLength="21.8" lengthAdjust="spacingAndGlyphs">83.00</text>
<path d="M178.7 151.5 h25.6 v9.5 h-7.8 l-5.0 5.0 l-5.0 -5.0 h-7.8 Z" fill="#fff" fill-opacity="0.93" stroke="#c4c4c4" stroke-width="0.9"/>
<text x="180.6" y="159.5" font-family="Liberation Sans, sans-serif" font-size="9.40" text-anchor="start" font-weight="normal" fill="#000" textLength="21.8" lengthAdjust="spacingAndGlyphs">75.00</text>
<path d="M226.5 162.1 h25.6 v9.5 h-7.8 l-5.0 5.0 l-5.0 -5.0 h-7.8 Z" fill="#fff" fill-opacity="0.93" stroke="#c4c4c4" stroke-width="0.9"/>
<text x="228.4" y="170.1" font-family="Liberation Sans, sans-serif" font-size="9.40" text-anchor="start" font-weight="normal" fill="#000" textLength="21.8" lengthAdjust="spacingAndGlyphs">68.00</text>
<path d="M287.8 155.2 h25.6 v9.5 h-7.8 l-5.0 5.0 l-5.0 -5.0 h-7.8 Z" fill="#fff" fill-opacity="0.93" stroke="#c4c4c4" stroke-width="0.9"/>
<text x="289.7" y="163.2" font-family="Liberation Sans, sans-serif" font-size="9.40" text-anchor="start" font-weight="normal" fill="#000" textLength="21.8" lengthAdjust="spacingAndGlyphs">72.00</text>
<path d="M312.8 142.1 h25.6 v9.5 h-7.8 l-5.0 5.0 l-5.0 -5.0 h-7.8 Z" fill="#fff" fill-opacity="0.93" stroke="#c4c4c4" stroke-width="0.9"/>
<text x="314.7" y="150.1" font-family="Liberation Sans, sans-serif" font-size="9.40" text-anchor="start" font-weight="normal" fill="#000" textLength="21.8" lengthAdjust="spacingAndGlyphs">81.00</text>
<path d="M295.1 208.0 h7.8 l5.0 -5.0 l5.0 5.0 h7.8 v9.5 h-25.6 Z" fill="#fff" fill-opacity="0.93" stroke="#c4c4c4" stroke-width="0.9"/>
<text x="297.0" y="216.0" font-family="Liberation Sans, sans-serif" font-size="9.40" text-anchor="start" font-weight="normal" fill="#000" textLength="21.8" lengthAdjust="spacingAndGlyphs">56.00</text>
<path d="M246.5 232.2 h7.8 l5.0 -5.0 l5.0 5.0 h7.8 v9.5 h-25.6 Z" fill="#fff" fill-opacity="0.93" stroke="#c4c4c4" stroke-width="0.9"/>
<text x="248.4" y="240.2" font-family="Liberation Sans, sans-serif" font-size="9.40" text-anchor="start" font-weight="normal" fill="#000" textLength="21.8" lengthAdjust="spacingAndGlyphs">45.00</text>
<path d="M351.8 183.3 h25.6 v9.5 h-7.8 l-5.0 5.0 l-5.0 -5.0 h-7.8 Z" fill="#fff" fill-opacity="0.93" stroke="#c4c4c4" stroke-width="0.9"/>
<text x="353.7" y="191.3" font-family="Liberation Sans, sans-serif" font-size="9.40" text-anchor="start" font-weight="normal" fill="#000" textLength="21.8" lengthAdjust="spacingAndGlyphs">57.00</text>
<path d="M385.8 187.1 h25.6 v9.5 h-7.8 l-5.0 5.0 l-5.0 -5.0 h-7.8 Z" fill="#fff" fill-opacity="0.93" stroke="#c4c4c4" stroke-width="0.9"/>
<text x="387.7" y="195.1" font-family="Liberation Sans, sans-serif" font-size="9.40" text-anchor="start" font-weight="normal" fill="#000" textLength="21.8" lengthAdjust="spacingAndGlyphs">55.00</text>
<path d="M445.8 130.1 h25.6 v9.5 h-7.8 l-5.0 5.0 l-5.0 -5.0 h-7.8 Z" fill="#fff" fill-opacity="0.93" stroke="#c4c4c4" stroke-width="0.9"/>
<text x="447.7" y="138.1" font-family="Liberation Sans, sans-serif" font-size="9.40" text-anchor="start" font-weight="normal" fill="#000" textLength="21.8" lengthAdjust="spacingAndGlyphs">89.00</text>
<path d="M512.1 228.0 h7.8 l5.0 -5.0 l5.0 5.0 h7.8 v9.5 h-25.6 Z" fill="#fff" fill-opacity="0.93" stroke="#c4c4c4" stroke-width="0.9"/>
<text x="514.0" y="236.0" font-family="Liberation Sans, sans-serif" font-size="9.40" text-anchor="start" font-weight="normal" fill="#000" textLength="21.8" lengthAdjust="spacingAndGlyphs">47.00</text>
<path d="M607.6 172.9 h25.6 v9.5 h-7.8 l-5.0 5.0 l-5.0 -5.0 h-7.8 Z" fill="#fff" fill-opacity="0.93" stroke="#c4c4c4" stroke-width="0.9"/>
<text x="609.5" y="180.9" font-family="Liberation Sans, sans-serif" font-size="9.40" text-anchor="start" font-weight="normal" fill="#000" textLength="21.8" lengthAdjust="spacingAndGlyphs">62.00</text>
<path d="M575.0 250.4 h7.8 l5.0 -5.0 l5.0 5.0 h7.8 v9.5 h-25.6 Z" fill="#fff" fill-opacity="0.93" stroke="#c4c4c4" stroke-width="0.9"/>
<text x="576.9" y="258.4" font-family="Liberation Sans, sans-serif" font-size="9.40" text-anchor="start" font-weight="normal" fill="#000" textLength="21.8" lengthAdjust="spacingAndGlyphs">39.00</text>
<path d="M538.7 306.6 h7.8 l5.0 -5.0 l5.0 5.0 h7.8 v9.5 h-25.6 Z" fill="#fff" fill-opacity="0.93" stroke="#c4c4c4" stroke-width="0.9"/>
<text x="540.6" y="314.6" font-family="Liberation Sans, sans-serif" font-size="9.40" text-anchor="start" font-weight="normal" fill="#000" textLength="21.8" lengthAdjust="spacingAndGlyphs">24.00</text>
<path d="M625.0 281.7 h7.8 l5.0 -5.0 l5.0 5.0 h7.8 v9.5 h-25.6 Z" fill="#fff" fill-opacity="0.93" stroke="#c4c4c4" stroke-width="0.9"/>
<text x="626.9" y="289.7" font-family="Liberation Sans, sans-serif" font-size="9.40" text-anchor="start" font-weight="normal" fill="#000" textLength="21.8" lengthAdjust="spacingAndGlyphs">30.00</text>
<path d="M148.2 298.0 h7.8 l5.0 -5.0 l5.0 5.0 h7.8 v9.5 h-25.6 Z" fill="#fff" fill-opacity="0.93" stroke="#c4c4c4" stroke-width="0.9"/>
<text x="150.1" y="306.0" font-family="Liberation Sans, sans-serif" font-size="9.40" text-anchor="start" font-weight="normal" fill="#000" textLength="21.8" lengthAdjust="spacingAndGlyphs">26.00</text>
<path d="M210.5 277.6 h7.8 l5.0 -5.0 l5.0 5.0 h7.8 v9.5 h-25.6 Z" fill="#fff" fill-opacity="0.93" stroke="#c4c4c4" stroke-width="0.9"/>
<text x="212.4" y="285.6" font-family="Liberation Sans, sans-serif" font-size="9.40" text-anchor="start" font-weight="normal" fill="#000" textLength="21.8" lengthAdjust="spacingAndGlyphs">31.00</text>
<path d="M72.2 398.2 h7.8 l5.0 -5.0 l5.0 5.0 h7.8 v9.5 h-25.6 Z" fill="#fff" fill-opacity="0.93" stroke="#c4c4c4" stroke-width="0.9"/>
<text x="74.1" y="406.2" font-family="Liberation Sans, sans-serif" font-size="9.40" text-anchor="start" font-weight="normal" fill="#000" textLength="21.8" lengthAdjust="spacingAndGlyphs">11.00</text>
<text x="66.5" y="420.7" font-family="Liberation Sans, sans-serif" font-size="9.30" text-anchor="middle" font-weight="normal" fill="#000" stroke="#000" stroke-width="0.20">S</text>
<text x="91.5" y="420.7" font-family="Liberation Sans, sans-serif" font-size="9.30" text-anchor="middle" font-weight="normal" fill="#000" stroke="#000" stroke-width="0.20">O</text>
<text x="116.5" y="420.7" font-family="Liberation Sans, sans-serif" font-size="9.30" text-anchor="middle" font-weight="normal" fill="#000" stroke="#000" stroke-width="0.20">N</text>
<text x="141.5" y="420.7" font-family="Liberation Sans, sans-serif" font-size="9.30" text-anchor="middle" font-weight="normal" fill="#000" stroke="#000" stroke-width="0.20">D</text>
<text x="166.2" y="420.8" font-family="Liberation Sans, sans-serif" font-size="10.20" text-anchor="middle" font-weight="bold" fill="#000">23</text>
<text x="190.5" y="420.7" font-family="Liberation Sans, sans-serif" font-size="9.30" text-anchor="middle" font-weight="normal" fill="#000" stroke="#000" stroke-width="0.20">F</text>
<text x="212.5" y="420.7" font-family="Liberation Sans, sans-serif" font-size="9.30" text-anchor="middle" font-weight="normal" fill="#000" stroke="#000" stroke-width="0.20">M</text>
<text x="240.5" y="420.7" font-family="Liberation Sans, sans-serif" font-size="9.30" text-anchor="middle" font-weight="normal" fill="#000" stroke="#000" stroke-width="0.20">A</text>
<text x="262.5" y="420.7" font-family="Liberation Sans, sans-serif" font-size="9.30" text-anchor="middle" font-weight="normal" fill="#000" stroke="#000" stroke-width="0.20">M</text>
<text x="288.5" y="420.7" font-family="Liberation Sans, sans-serif" font-size="9.30" text-anchor="middle" font-weight="normal" fill="#000" stroke="#000" stroke-width="0.20">J</text>
<text x="313.5" y="420.7" font-family="Liberation Sans, sans-serif" font-size="9.30" text-anchor="middle" font-weight="normal" fill="#000" stroke="#000" stroke-width="0.20">J</text>
<text x="337.5" y="420.7" font-family="Liberation Sans, sans-serif" font-size="9.30" text-anchor="middle" font-weight="normal" fill="#000" stroke="#000" stroke-width="0.20">A</text>
<text x="364.5" y="420.7" font-family="Liberation Sans, sans-serif" font-size="9.30" text-anchor="middle" font-weight="normal" fill="#000" stroke="#000" stroke-width="0.20">S</text>
<text x="388.5" y="420.7" font-family="Liberation Sans, sans-serif" font-size="9.30" text-anchor="middle" font-weight="normal" fill="#000" stroke="#000" stroke-width="0.20">O</text>
<text x="414.5" y="420.7" font-family="Liberation Sans, sans-serif" font-size="9.30" text-anchor="middle" font-weight="normal" fill="#000" stroke="#000" stroke-width="0.20">N</text>
<text x="439.5" y="420.7" font-family="Liberation Sans, sans-serif" font-size="9.30" text-anchor="middle" font-weight="normal" fill="#000" stroke="#000" stroke-width="0.20">D</text>
<text x="462.2" y="420.8" font-family="Liberation Sans, sans-serif" font-size="10.20" text-anchor="middle" font-weight="bold" fill="#000">24</text>
<text x="487.5" y="420.7" font-family="Liberation Sans, sans-serif" font-size="9.30" text-anchor="middle" font-weight="normal" fill="#000" stroke="#000" stroke-width="0.20">F</text>
<text x="511.5" y="420.7" font-family="Liberation Sans, sans-serif" font-size="9.30" text-anchor="middle" font-weight="normal" fill="#000" stroke="#000" stroke-width="0.20">M</text>
<text x="535.5" y="420.7" font-family="Liberation Sans, sans-serif" font-size="9.30" text-anchor="middle" font-weight="normal" fill="#000" stroke="#000" stroke-width="0.20">A</text>
<text x="561.5" y="420.7" font-family="Liberation Sans, sans-serif" font-size="9.30" text-anchor="middle" font-weight="normal" fill="#000" stroke="#000" stroke-width="0.20">M</text>
<text x="587.5" y="420.7" font-family="Liberation Sans, sans-serif" font-size="9.30" text-anchor="middle" font-weight="normal" fill="#000" stroke="#000" stroke-width="0.20">J</text>
<text x="609.5" y="420.7" font-family="Liberation Sans, sans-serif" font-size="9.30" text-anchor="middle" font-weight="normal" fill="#000" stroke="#000" stroke-width="0.20">J</text>
<text x="635.5" y="420.7" font-family="Liberation Sans, sans-serif" font-size="9.30" text-anchor="middle" font-weight="normal" fill="#000" stroke="#000" stroke-width="0.20">A</text>
<line x1="66.5" y1="422" x2="66.5" y2="424.5" stroke="#c8c8c8" stroke-width="1"/>
<line x1="91.5" y1="422" x2="91.5" y2="424.5" stroke="#c8c8c8" stroke-width="1"/>
<line x1="116.5" y1="422" x2="116.5" y2="424.5" stroke="#c8c8c8" stroke-width="1"/>
<line x1="141.5" y1="422" x2="141.5" y2="424.5" stroke="#c8c8c8" stroke-width="1"/>
<line x1="166.5" y1="422" x2="166.5" y2="424.5" stroke="#c8c8c8" stroke-width="1"/>
<line x1="190.5" y1="422" x2="190.5" y2="424.5" stroke="#c8c8c8" stroke-width="1"/>
<line x1="212.5" y1="422" x2="212.5" y2="424.5" stroke="#c8c8c8" stroke-width="1"/>
<line x1="240.5" y1="422" x2="240.5" y2="424.5" stroke="#c8c8c8" stroke-width="1"/>
<line x1="262.5" y1="422" x2="262.5" y2="424.5" stroke="#c8c8c8" stroke-width="1"/>
<line x1="288.5" y1="422" x2="288.5" y2="424.5" stroke="#c8c8c8" stroke-width="1"/>
<line x1="313.5" y1="422" x2="313.5" y2="424.5" stroke="#c8c8c8" stroke-width="1"/>
<line x1="337.5" y1="422" x2="337.5" y2="424.5" stroke="#c8c8c8" stroke-width="1"/>
<line x1="364.5" y1="422" x2="364.5" y2="424.5" stroke="#c8c8c8" stroke-width="1"/>
<line x1="388.5" y1="422" x2="388.5" y2="424.5" stroke="#c8c8c8" stroke-width="1"/>
<line x1="414.5" y1="422" x2="414.5" y2="424.5" stroke="#c8c8c8" stroke-width="1"/>
<line x1="439.5" y1="422" x2="439.5" y2="424.5" stroke="#c8c8c8" stroke-width="1"/>
<line x1="462.5" y1="422" x2="462.5" y2="424.5" stroke="#c8c8c8" stroke-width="1"/>
<line x1="487.5" y1="422" x2="487.5" y2="424.5" stroke="#c8c8c8" stroke-width="1"/>
<line x1="511.5" y1="422" x2="511.5" y2="424.5" stroke="#c8c8c8" stroke-width="1"/>
<line x1="535.5" y1="422" x2="535.5" y2="424.5" stroke="#c8c8c8" stroke-width="1"/>
<line x1="561.5" y1="422" x2="561.5" y2="424.5" stroke="#c8c8c8" stroke-width="1"/>
<line x1="587.5" y1="422" x2="587.5" y2="424.5" stroke="#c8c8c8" stroke-width="1"/>
<line x1="609.5" y1="422" x2="609.5" y2="424.5" stroke="#c8c8c8" stroke-width="1"/>
<line x1="635.5" y1="422" x2="635.5" y2="424.5" stroke="#c8c8c8" stroke-width="1"/>
<line x1="66.5" y1="424.5" x2="66.5" y2="523.5" stroke="rgba(0,0,0,0.050)" stroke-width="1"/>
<line x1="91.5" y1="424.5" x2="91.5" y2="523.5" stroke="rgba(0,0,0,0.050)" stroke-width="1"/>
<line x1="116.5" y1="424.5" x2="116.5" y2="523.5" stroke="rgba(0,0,0,0.050)" stroke-width="1"/>
<line x1="141.5" y1="424.5" x2="141.5" y2="523.5" stroke="rgba(0,0,0,0.050)" stroke-width="1"/>
<line x1="166.5" y1="424.5" x2="166.5" y2="523.5" stroke="rgba(0,0,0,0.120)" stroke-width="1"/>
<line x1="190.5" y1="424.5" x2="190.5" y2="523.5" stroke="rgba(0,0,0,0.050)" stroke-width="1"/>
<line x1="212.5" y1="424.5" x2="212.5" y2="523.5" stroke="rgba(0,0,0,0.050)" stroke-width="1"/>
<line x1="240.5" y1="424.5" x2="240.5" y2="523.5" stroke="rgba(0,0,0,0.050)" stroke-width="1"/>
<line x1="262.5" y1="424.5" x2="262.5" y2="523.5" stroke="rgba(0,0,0,0.050)" stroke-width="1"/>
<line x1="288.5" y1="424.5" x2="288.5" y2="523.5" stroke="rgba(0,0,0,0.050)" stroke-width="1"/>
<line x1="313.5" y1="424.5" x2="313.5" y2="523.5" stroke="rgba(0,0,0,0.050)" stroke-width="1"/>
<line x1="337.5" y1="424.5" x2="337.5" y2="523.5" stroke="rgba(0,0,0,0.050)" stroke-width="1"/>
<line x1="364.5" y1="424.5" x2="364.5" y2="523.5" stroke="rgba(0,0,0,0.050)" stroke-width="1"/>
<line x1="388.5" y1="424.5" x2="388.5" y2="523.5" stroke="rgba(0,0,0,0.050)" stroke-width="1"/>
<line x1="414.5" y1="424.5" x2="414.5" y2="523.5" stroke="rgba(0,0,0,0.050)" stroke-width="1"/>
<line x1="439.5" y1="424.5" x2="439.5" y2="523.5" stroke="rgba(0,0,0,0.050)" stroke-width="1"/>
<line x1="462.5" y1="424.5" x2="462.5" y2="523.5" stroke="rgba(0,0,0,0.120)" stroke-width="1"/>
<line x1="487.5" y1="424.5" x2="487.5" y2="523.5" stroke="rgba(0,0,0,0.050)" stroke-width="1"/>
<line x1="511.5" y1="424.5" x2="511.5" y2="523.5" stroke="rgba(0,0,0,0.050)" stroke-width="1"/>
<line x1="535.5" y1="424.5" x2="535.5" y2="523.5" stroke="rgba(0,0,0,0.050)" stroke-width="1"/>
<line x1="561.5" y1="424.5" x2="561.5" y2="523.5" stroke="rgba(0,0,0,0.050)" stroke-width="1"/>
<line x1="587.5" y1="424.5" x2="587.5" y2="523.5" stroke="rgba(0,0,0,0.050)" stroke-width="1"/>
<line x1="609.5" y1="424.5" x2="609.5" y2="523.5" stroke="rgba(0,0,0,0.050)" stroke-width="1"/>
<line x1="635.5" y1="424.5" x2="635.5" y2="523.5" stroke="rgba(0,0,0,0.050)" stroke-width="1"/>
<line x1="43.5" y1="429.5" x2="644.5" y2="429.5" stroke="rgba(0,0,0,0.050)" stroke-width="1"/>
<line x1="43.5" y1="450.5" x2="644.5" y2="450.5" stroke="rgba(0,0,0,0.050)" stroke-width="1"/>
<line x1="43.5" y1="471.5" x2="644.5" y2="471.5" stroke="rgba(0,0,0,0.050)" stroke-width="1"/>
<line x1="43.5" y1="513.5" x2="644.5" y2="513.5" stroke="rgba(0,0,0,0.050)" stroke-width="1"/>
<line x1="43.5" y1="492.5" x2="644.5" y2="492.5" stroke="#4a4a4a" stroke-width="1"/>
<path d="M43.9 493.1 L44.1 493.1 L46.4 498.9 L49.1 496.6 L52.6 495.0 L55.5 498.9 L57.8 500.5 L60.1 497.7 L62.9 501.1 L67.0 504.6 L70.9 503.4 L73.8 502.7 L76.6 505.0 L82.3 504.6 L84.6 506.4 L88.0 505.0 L90.3 506.9 L93.0 504.6 L94.9 503.4 L97.1 509.1 L99.9 512.6 L102.9 514.9 L106.3 513.3 L109.7 512.6 L113.1 514.2 L117.7 516.0 L121.1 513.3 L123.4 511.4 L125.0 506.9 L128.0 504.1 L130.3 506.9 L133.7 506.4 L136.5 508.0 L139.4 505.3 L141.7 506.9 L145.1 507.3 L148.6 505.7 L150.9 504.6 L154.3 507.3 L157.7 508.0 L162.3 512.6 L165.3 511.4 L168.0 509.6 L171.4 506.9 L174.9 505.3 L178.3 503.4 L181.3 499.5 L185.1 500.0 L187.4 498.9 L190.4 494.3 L192.3 496.3 L198.0 496.7 L201.0 494.7 L203.5 497.0 L205.5 499.3 L208.3 497.4 L211.7 496.7 L215.1 495.8 L217.0 496.7 L218.6 494.5 L222.0 493.5 L224.3 490.6 L227.7 489.9 L229.5 490.6 L231.1 486.0 L233.0 490.6 L235.0 491.0 L237.5 488.3 L239.8 491.3 L243.0 494.0 L246.0 494.7 L249.4 496.3 L254.0 496.3 L257.4 499.7 L259.7 500.4 L262.7 498.1 L265.4 497.9 L268.2 496.7 L270.0 497.5 L273.4 496.7 L276.4 490.6 L279.1 489.4 L282.1 489.9 L284.2 477.5 L286.0 477.3 L288.7 480.7 L291.7 482.1 L294.7 481.4 L297.0 478.0 L299.3 474.6 L300.9 478.0 L302.5 477.3 L304.3 480.3 L306.6 480.7 L308.4 477.5 L310.7 479.1 L313.0 477.5 L315.3 478.7 L318.0 476.9 L320.7 474.6 L322.0 475.7 L324.4 473.0 L326.0 475.3 L327.8 480.7 L330.6 479.8 L332.2 480.3 L334.0 476.9 L337.4 476.9 L339.0 479.1 L340.0 479.4 L343.4 481.0 L346.4 485.6 L349.1 484.0 L351.4 485.6 L353.7 481.7 L356.0 480.3 L357.8 483.3 L360.6 481.0 L364.0 478.7 L366.3 478.3 L368.6 481.7 L372.0 482.6 L375.4 484.4 L378.9 487.2 L382.3 486.3 L385.7 482.6 L389.1 482.1 L392.6 481.7 L396.7 479.4 L399.0 482.1 L401.7 483.3 L404.5 485.6 L406.7 484.9 L409.0 487.9 L411.3 489.5 L413.6 487.9 L416.6 484.9 L420.0 483.3 L423.4 479.9 L426.9 478.0 L429.1 476.7 L431.4 478.7 L434.9 479.4 L438.3 481.7 L441.7 484.0 L444.0 481.0 L446.3 477.1 L449.7 474.1 L453.1 474.1 L455.4 475.7 L457.7 473.0 L460.0 471.9 L461.8 473.5 L463.4 478.7 L465.7 479.9 L468.0 477.1 L471.4 477.1 L473.7 474.8 L476.0 469.6 L478.3 467.3 L480.6 465.7 L482.9 468.9 L484.5 469.6 L487.4 472.5 L489.7 470.7 L490.0 470.0 L492.3 470.5 L494.6 465.4 L496.8 466.6 L498.7 464.3 L501.4 467.7 L504.2 464.3 L507.1 465.0 L509.4 463.6 L511.7 456.3 L514.0 454.0 L516.3 449.4 L517.9 455.1 L519.7 454.5 L522.0 459.7 L524.7 463.1 L527.7 459.7 L530.0 458.1 L532.3 459.7 L535.3 457.4 L538.0 458.6 L541.4 458.1 L544.4 455.8 L546.7 458.6 L549.0 462.0 L551.3 470.5 L554.0 467.7 L556.7 460.9 L558.6 459.3 L560.9 464.3 L563.6 459.7 L566.6 459.7 L569.5 461.3 L572.7 456.7 L575.7 457.4 L578.0 454.0 L580.3 449.4 L582.1 445.5 L584.9 447.1 L587.8 449.9 L589.4 443.7 L592.4 444.4 L595.6 436.9 L598.6 433.9 L600.4 432.3 L603.1 443.7 L606.1 442.1 L608.9 440.7 L612.3 436.9 L615.3 433.0 L616.4 431.1 L618.5 435.7 L620.7 437.5 L622.6 450.6 L624.9 449.0 L626.7 446.0 L629.0 454.0 L631.7 457.4 L634.0 454.5 L635.6 463.1 L637.4 467.7 L639.0 466.6 L639.8 466.6 L639.8 523.0 L43.9 523.0 Z" fill="rgba(243,112,33,0.8)" stroke="none"/>
<line x1="66.5" y1="424.5" x2="66.5" y2="523.5" stroke="rgba(0,0,0,0.052)" stroke-width="1"/>
<line x1="91.5" y1="424.5" x2="91.5" y2="523.5" stroke="rgba(0,0,0,0.052)" stroke-width="1"/>
<line x1="116.5" y1="424.5" x2="116.5" y2="523.5" stroke="rgba(0,0,0,0.052)" stroke-width="1"/>
<line x1="141.5" y1="424.5" x2="141.5" y2="523.5" stroke="rgba(0,0,0,0.052)" stroke-width="1"/>
<line x1="166.5" y1="424.5" x2="166.5" y2="523.5" stroke="rgba(0,0,0,0.125)" stroke-width="1"/>
<line x1="190.5" y1="424.5" x2="190.5" y2="523.5" stroke="rgba(0,0,0,0.052)" stroke-width="1"/>
<line x1="212.5" y1="424.5" x2="212.5" y2="523.5" stroke="rgba(0,0,0,0.052)" stroke-width="1"/>
<line x1="240.5" y1="424.5" x2="240.5" y2="523.5" stroke="rgba(0,0,0,0.052)" stroke-width="1"/>
<line x1="262.5" y1="424.5" x2="262.5" y2="523.5" stroke="rgba(0,0,0,0.052)" stroke-width="1"/>
<line x1="288.5" y1="424.5" x2="288.5" y2="523.5" stroke="rgba(0,0,0,0.052)" stroke-width="1"/>
<line x1="313.5" y1="424.5" x2="313.5" y2="523.5" stroke="rgba(0,0,0,0.052)" stroke-width="1"/>
<line x1="337.5" y1="424.5" x2="337.5" y2="523.5" stroke="rgba(0,0,0,0.052)" stroke-width="1"/>
<line x1="364.5" y1="424.5" x2="364.5" y2="523.5" stroke="rgba(0,0,0,0.052)" stroke-width="1"/>
<line x1="388.5" y1="424.5" x2="388.5" y2="523.5" stroke="rgba(0,0,0,0.052)" stroke-width="1"/>
<line x1="414.5" y1="424.5" x2="414.5" y2="523.5" stroke="rgba(0,0,0,0.052)" stroke-width="1"/>
<line x1="439.5" y1="424.5" x2="439.5" y2="523.5" stroke="rgba(0,0,0,0.052)" stroke-width="1"/>
<line x1="462.5" y1="424.5" x2="462.5" y2="523.5" stroke="rgba(0,0,0,0.125)" stroke-width="1"/>
<line x1="487.5" y1="424.5" x2="487.5" y2="523.5" stroke="rgba(0,0,0,0.052)" stroke-width="1"/>
<line x1="511.5" y1="424.5" x2="511.5" y2="523.5" stroke="rgba(0,0,0,0.052)" stroke-width="1"/>
<line x1="535.5" y1="424.5" x2="535.5" y2="523.5" stroke="rgba(0,0,0,0.052)" stroke-width="1"/>
<line x1="561.5" y1="424.5" x2="561.5" y2="523.5" stroke="rgba(0,0,0,0.052)" stroke-width="1"/>
<line x1="587.5" y1="424.5" x2="587.5" y2="523.5" stroke="rgba(0,0,0,0.052)" stroke-width="1"/>
<line x1="609.5" y1="424.5" x2="609.5" y2="523.5" stroke="rgba(0,0,0,0.052)" stroke-width="1"/>
<line x1="635.5" y1="424.5" x2="635.5" y2="523.5" stroke="rgba(0,0,0,0.052)" stroke-width="1"/>
<line x1="43.5" y1="429.5" x2="644.5" y2="429.5" stroke="rgba(0,0,0,0.052)" stroke-width="1"/>
<line x1="43.5" y1="450.5" x2="644.5" y2="450.5" stroke="rgba(0,0,0,0.052)" stroke-width="1"/>
<line x1="43.5" y1="471.5" x2="644.5" y2="471.5" stroke="rgba(0,0,0,0.052)" stroke-width="1"/>
<line x1="43.5" y1="513.5" x2="644.5" y2="513.5" stroke="rgba(0,0,0,0.052)" stroke-width="1"/>
<path d="M43.9 493.1 L44.1 493.1 L46.4 498.9 L49.1 496.6 L52.6 495.0 L55.5 498.9 L57.8 500.5 L60.1 497.7 L62.9 501.1 L67.0 504.6 L70.9 503.4 L73.8 502.7 L76.6 505.0 L82.3 504.6 L84.6 506.4 L88.0 505.0 L90.3 506.9 L93.0 504.6 L94.9 503.4 L97.1 509.1 L99.9 512.6 L102.9 514.9 L106.3 513.3 L109.7 512.6 L113.1 514.2 L117.7 516.0 L121.1 513.3 L123.4 511.4 L125.0 506.9 L128.0 504.1 L130.3 506.9 L133.7 506.4 L136.5 508.0 L139.4 505.3 L141.7 506.9 L145.1 507.3 L148.6 505.7 L150.9 504.6 L154.3 507.3 L157.7 508.0 L162.3 512.6 L165.3 511.4 L168.0 509.6 L171.4 506.9 L174.9 505.3 L178.3 503.4 L181.3 499.5 L185.1 500.0 L187.4 498.9 L190.4 494.3 L192.3 496.3 L198.0 496.7 L201.0 494.7 L203.5 497.0 L205.5 499.3 L208.3 497.4 L211.7 496.7 L215.1 495.8 L217.0 496.7 L218.6 494.5 L222.0 493.5 L224.3 490.6 L227.7 489.9 L229.5 490.6 L231.1 486.0 L233.0 490.6 L235.0 491.0 L237.5 488.3 L239.8 491.3 L243.0 494.0 L246.0 494.7 L249.4 496.3 L254.0 496.3 L257.4 499.7 L259.7 500.4 L262.7 498.1 L265.4 497.9 L268.2 496.7 L270.0 497.5 L273.4 496.7 L276.4 490.6 L279.1 489.4 L282.1 489.9 L284.2 477.5 L286.0 477.3 L288.7 480.7 L291.7 482.1 L294.7 481.4 L297.0 478.0 L299.3 474.6 L300.9 478.0 L302.5 477.3 L304.3 480.3 L306.6 480.7 L308.4 477.5 L310.7 479.1 L313.0 477.5 L315.3 478.7 L318.0 476.9 L320.7 474.6 L322.0 475.7 L324.4 473.0 L326.0 475.3 L327.8 480.7 L330.6 479.8 L332.2 480.3 L334.0 476.9 L337.4 476.9 L339.0 479.1 L340.0 479.4 L343.4 481.0 L346.4 485.6 L349.1 484.0 L351.4 485.6 L353.7 481.7 L356.0 480.3 L357.8 483.3 L360.6 481.0 L364.0 478.7 L366.3 478.3 L368.6 481.7 L372.0 482.6 L375.4 484.4 L378.9 487.2 L382.3 486.3 L385.7 482.6 L389.1 482.1 L392.6 481.7 L396.7 479.4 L399.0 482.1 L401.7 483.3 L404.5 485.6 L406.7 484.9 L409.0 487.9 L411.3 489.5 L413.6 487.9 L416.6 484.9 L420.0 483.3 L423.4 479.9 L426.9 478.0 L429.1 476.7 L431.4 478.7 L434.9 479.4 L438.3 481.7 L441.7 484.0 L444.0 481.0 L446.3 477.1 L449.7 474.1 L453.1 474.1 L455.4 475.7 L457.7 473.0 L460.0 471.9 L461.8 473.5 L463.4 478.7 L465.7 479.9 L468.0 477.1 L471.4 477.1 L473.7 474.8 L476.0 469.6 L478.3 467.3 L480.6 465.7 L482.9 468.9 L484.5 469.6 L487.4 472.5 L489.7 470.7 L490.0 470.0 L492.3 470.5 L494.6 465.4 L496.8 466.6 L498.7 464.3 L501.4 467.7 L504.2 464.3 L507.1 465.0 L509.4 463.6 L511.7 456.3 L514.0 454.0 L516.3 449.4 L517.9 455.1 L519.7 454.5 L522.0 459.7 L524.7 463.1 L527.7 459.7 L530.0 458.1 L532.3 459.7 L535.3 457.4 L538.0 458.6 L541.4 458.1 L544.4 455.8 L546.7 458.6 L549.0 462.0 L551.3 470.5 L554.0 467.7 L556.7 460.9 L558.6 459.3 L560.9 464.3 L563.6 459.7 L566.6 459.7 L569.5 461.3 L572.7 456.7 L575.7 457.4 L578.0 454.0 L580.3 449.4 L582.1 445.5 L584.9 447.1 L587.8 449.9 L589.4 443.7 L592.4 444.4 L595.6 436.9 L598.6 433.9 L600.4 432.3 L603.1 443.7 L606.1 442.1 L608.9 440.7 L612.3 436.9 L615.3 433.0 L616.4 431.1 L618.5 435.7 L620.7 437.5 L622.6 450.6 L624.9 449.0 L626.7 446.0 L629.0 454.0 L631.7 457.4 L634.0 454.5 L635.6 463.1 L637.4 467.7 L639.0 466.6 L639.8 466.6" fill="none" stroke="#f06a18" stroke-width="1.2" stroke-linejoin="round"/>
<rect x="43.5" y="424.5" width="601.0" height="99.0" fill="none" stroke="#bcbcbc" stroke-width="1"/>
<line x1="644.5" y1="518.5" x2="646.0" y2="518.5" stroke="#b4b4b4" stroke-width="1"/>
<line x1="644.5" y1="513.5" x2="646.0" y2="513.5" stroke="#b4b4b4" stroke-width="1"/>
<line x1="644.5" y1="508.5" x2="646.0" y2="508.5" stroke="#b4b4b4" stroke-width="1"/>
<line x1="644.5" y1="503.5" x2="646.0" y2="503.5" stroke="#b4b4b4" stroke-width="1"/>
<line x1="644.5" y1="497.5" x2="646.0" y2="497.5" stroke="#b4b4b4" stroke-width="1"/>
<line x1="644.5" y1="492.5" x2="646.0" y2="492.5" stroke="#b4b4b4" stroke-width="1"/>
<line x1="644.5" y1="487.5" x2="646.0" y2="487.5" stroke="#b4b4b4" stroke-width="1"/>
<line x1="644.5" y1="482.5" x2="646.0" y2="482.5" stroke="#b4b4b4" stroke-width="1"/>
<line x1="644.5" y1="476.5" x2="646.0" y2="476.5" stroke="#b4b4b4" stroke-width="1"/>
<line x1="644.5" y1="471.5" x2="646.0" y2="471.5" stroke="#b4b4b4" stroke-width="1"/>
<line x1="644.5" y1="466.5" x2="646.0" y2="466.5" stroke="#b4b4b4" stroke-width="1"/>
<line x1="644.5" y1="461.5" x2="646.0" y2="461.5" stroke="#b4b4b4" stroke-width="1"/>
<line x1="644.5" y1="455.5" x2="646.0" y2="455.5" stroke="#b4b4b4" stroke-width="1"/>
<line x1="644.5" y1="450.5" x2="646.0" y2="450.5" stroke="#b4b4b4" stroke-width="1"/>
<line x1="644.5" y1="445.5" x2="646.0" y2="445.5" stroke="#b4b4b4" stroke-width="1"/>
<line x1="644.5" y1="440.5" x2="646.0" y2="440.5" stroke="#b4b4b4" stroke-width="1"/>
<line x1="644.5" y1="434.5" x2="646.0" y2="434.5" stroke="#b4b4b4" stroke-width="1"/>
<line x1="644.5" y1="429.5" x2="646.0" y2="429.5" stroke="#b4b4b4" stroke-width="1"/>
<line x1="644.5" y1="429.5" x2="647.5" y2="429.5" stroke="#b4b4b4" stroke-width="1"/>
<line x1="644.5" y1="450.5" x2="647.5" y2="450.5" stroke="#b4b4b4" stroke-width="1"/>
<line x1="644.5" y1="471.5" x2="647.5" y2="471.5" stroke="#b4b4b4" stroke-width="1"/>
<line x1="644.5" y1="492.5" x2="647.5" y2="492.5" stroke="#b4b4b4" stroke-width="1"/>
<line x1="644.5" y1="513.5" x2="647.5" y2="513.5" stroke="#b4b4b4" stroke-width="1"/>
<text x="651.0" y="431.8" font-family="Liberation Sans, sans-serif" font-size="9.60" text-anchor="start" font-weight="normal" fill="#000" stroke="#000" stroke-width="0.15" textLength="11.3" lengthAdjust="spacingAndGlyphs">60</text>
<text x="663.6" y="431.8" font-family="Liberation Sans, sans-serif" font-size="9.60" text-anchor="start" font-weight="normal" fill="#000" stroke="#000" stroke-width="0.15" textLength="7.6" lengthAdjust="spacingAndGlyphs">%</text>
<text x="651.0" y="452.8" font-family="Liberation Sans, sans-serif" font-size="9.60" text-anchor="start" font-weight="normal" fill="#000" stroke="#000" stroke-width="0.15" textLength="11.3" lengthAdjust="spacingAndGlyphs">40</text>
<text x="663.6" y="452.8" font-family="Liberation Sans, sans-serif" font-size="9.60" text-anchor="start" font-weight="normal" fill="#000" stroke="#000" stroke-width="0.15" textLength="7.6" lengthAdjust="spacingAndGlyphs">%</text>
<text x="651.0" y="473.8" font-family="Liberation Sans, sans-serif" font-size="9.60" text-anchor="start" font-weight="normal" fill="#000" stroke="#000" stroke-width="0.15" textLength="11.3" lengthAdjust="spacingAndGlyphs">20</text>
<text x="663.6" y="473.8" font-family="Liberation Sans, sans-serif" font-size="9.60" text-anchor="start" font-weight="normal" fill="#000" stroke="#000" stroke-width="0.15" textLength="7.6" lengthAdjust="spacingAndGlyphs">%</text>
<text x="656.7" y="494.8" font-family="Liberation Sans, sans-serif" font-size="9.60" text-anchor="start" font-weight="normal" fill="#000" stroke="#000" stroke-width="0.15" textLength="5.7" lengthAdjust="spacingAndGlyphs">0</text>
<text x="663.6" y="494.8" font-family="Liberation Sans, sans-serif" font-size="9.60" text-anchor="start" font-weight="normal" fill="#000" stroke="#000" stroke-width="0.15" textLength="7.6" lengthAdjust="spacingAndGlyphs">%</text>
<text x="648.0" y="515.8" font-family="Liberation Sans, sans-serif" font-size="9.60" text-anchor="start" font-weight="normal" fill="#000" stroke="#000" stroke-width="0.15" textLength="14.3" lengthAdjust="spacingAndGlyphs">-20</text>
<text x="663.6" y="515.8" font-family="Liberation Sans, sans-serif" font-size="9.60" text-anchor="start" font-weight="normal" fill="#000" stroke="#000" stroke-width="0.15" textLength="7.6" lengthAdjust="spacingAndGlyphs">%</text>
<line x1="66.5" y1="523.5" x2="66.5" y2="622.5" stroke="rgba(0,0,0,0.100)" stroke-width="1"/>
<line x1="91.5" y1="523.5" x2="91.5" y2="622.5" stroke="rgba(0,0,0,0.100)" stroke-width="1"/>
<line x1="116.5" y1="523.5" x2="116.5" y2="622.5" stroke="rgba(0,0,0,0.100)" stroke-width="1"/>
<line x1="141.5" y1="523.5" x2="141.5" y2="622.5" stroke="rgba(0,0,0,0.100)" stroke-width="1"/>
<line x1="166.5" y1="523.5" x2="166.5" y2="622.5" stroke="rgba(0,0,0,0.240)" stroke-width="1"/>
<line x1="190.5" y1="523.5" x2="190.5" y2="622.5" stroke="rgba(0,0,0,0.100)" stroke-width="1"/>
<line x1="212.5" y1="523.5" x2="212.5" y2="622.5" stroke="rgba(0,0,0,0.100)" stroke-width="1"/>
<line x1="240.5" y1="523.5" x2="240.5" y2="622.5" stroke="rgba(0,0,0,0.100)" stroke-width="1"/>
<line x1="262.5" y1="523.5" x2="262.5" y2="622.5" stroke="rgba(0,0,0,0.100)" stroke-width="1"/>
<line x1="288.5" y1="523.5" x2="288.5" y2="622.5" stroke="rgba(0,0,0,0.100)" stroke-width="1"/>
<line x1="313.5" y1="523.5" x2="313.5" y2="622.5" stroke="rgba(0,0,0,0.100)" stroke-width="1"/>
<line x1="337.5" y1="523.5" x2="337.5" y2="622.5" stroke="rgba(0,0,0,0.100)" stroke-width="1"/>
<line x1="364.5" y1="523.5" x2="364.5" y2="622.5" stroke="rgba(0,0,0,0.100)" stroke-width="1"/>
<line x1="388.5" y1="523.5" x2="388.5" y2="622.5" stroke="rgba(0,0,0,0.100)" stroke-width="1"/>
<line x1="414.5" y1="523.5" x2="414.5" y2="622.5" stroke="rgba(0,0,0,0.100)" stroke-width="1"/>
<line x1="439.5" y1="523.5" x2="439.5" y2="622.5" stroke="rgba(0,0,0,0.100)" stroke-width="1"/>
<line x1="462.5" y1="523.5" x2="462.5" y2="622.5" stroke="rgba(0,0,0,0.240)" stroke-width="1"/>
<line x1="487.5" y1="523.5" x2="487.5" y2="622.5" stroke="rgba(0,0,0,0.100)" stroke-width="1"/>
<line x1="511.5" y1="523.5" x2="511.5" y2="622.5" stroke="rgba(0,0,0,0.100)" stroke-width="1"/>
<line x1="535.5" y1="523.5" x2="535.5" y2="622.5" stroke="rgba(0,0,0,0.100)" stroke-width="1"/>
<line x1="561.5" y1="523.5" x2="561.5" y2="622.5" stroke="rgba(0,0,0,0.100)" stroke-width="1"/>
<line x1="587.5" y1="523.5" x2="587.5" y2="622.5" stroke="rgba(0,0,0,0.100)" stroke-width="1"/>
<line x1="609.5" y1="523.5" x2="609.5" y2="622.5" stroke="rgba(0,0,0,0.100)" stroke-width="1"/>
<line x1="635.5" y1="523.5" x2="635.5" y2="622.5" stroke="rgba(0,0,0,0.100)" stroke-width="1"/>
<line x1="43.5" y1="535.5" x2="644.5" y2="535.5" stroke="rgba(0,0,0,0.100)" stroke-width="1"/>
<line x1="43.5" y1="578.5" x2="644.5" y2="578.5" stroke="rgba(0,0,0,0.100)" stroke-width="1"/>
<line x1="43.5" y1="600.5" x2="644.5" y2="600.5" stroke="rgba(0,0,0,0.100)" stroke-width="1"/>
<line x1="43.5" y1="557.5" x2="644.5" y2="557.5" stroke="#4a4a4a" stroke-width="1"/>
<path d="M44.0 556.6 L46.3 551.4 L49.1 547.1 L52.0 539.4 L54.3 537.7 L56.6 539.4 L59.4 544.3 L62.3 547.1 L65.1 555.7 L68.0 565.7 L71.4 571.4 L74.3 571.4 L77.7 573.7 L81.4 578.6 L84.3 588.6 L87.1 600.0 L90.0 605.7 L92.9 606.3 L95.7 606.3 L98.6 609.1 L102.3 612.0 L105.1 610.0 L108.6 607.1 L111.4 601.4 L114.3 592.9 L117.1 587.1 L120.6 584.3 L124.3 580.0 L128.6 574.3 L132.9 572.9 L137.1 570.0 L140.0 568.6 L142.9 565.1 L146.3 566.6 L150.0 568.6 L152.9 570.0 L155.7 574.3 L158.6 577.1 L161.4 581.4 L164.3 583.4 L167.1 582.3 L170.0 578.6 L172.3 575.7 L174.3 567.1 L176.6 560.0 L179.4 552.9 L182.3 547.1 L185.1 544.3 L188.0 540.0 L190.9 534.9 L194.3 530.9 L196.6 531.4 L199.4 535.7 L202.9 539.4 L205.7 544.3 L208.6 550.0 L212.0 555.7 L214.9 557.1 L217.7 562.9 L220.6 571.4 L223.4 578.6 L226.3 584.3 L229.1 587.7 L232.9 589.1 L236.3 589.1 L239.1 584.3 L242.9 582.9 L246.6 580.0 L250.0 576.3 L252.9 575.1 L255.1 575.7 L258.0 579.4 L261.4 580.6 L265.7 582.0 L270.0 581.4 L274.3 582.3 L278.0 579.4 L281.4 577.1 L284.9 578.6 L287.7 579.4 L290.6 575.1 L294.3 570.0 L298.0 565.1 L301.4 561.4 L304.3 562.0 L307.1 565.7 L310.0 566.3 L312.9 564.3 L315.7 565.7 L318.0 565.7 L320.9 561.4 L323.7 557.1 L326.6 552.9 L329.4 551.4 L332.9 550.6 L336.3 549.1 L339.1 550.9 L342.9 554.9 L345.7 560.0 L348.6 565.1 L351.4 574.3 L354.3 580.6 L357.1 584.3 L359.1 586.3 L362.0 584.3 L365.7 582.3 L369.4 584.3 L372.9 587.1 L375.7 588.0 L378.6 592.9 L381.4 597.7 L384.3 602.0 L387.1 603.7 L390.0 607.1 L392.9 608.0 L395.1 607.1 L397.1 604.9 L399.1 605.7 L401.4 604.3 L404.3 607.1 L407.1 610.9 L410.0 614.3 L412.9 615.1 L415.1 611.4 L418.0 605.1 L420.9 602.3 L422.9 600.6 L425.7 594.9 L428.6 588.6 L431.4 582.9 L434.3 578.6 L437.1 572.9 L440.0 567.1 L442.9 562.9 L446.3 559.4 L448.6 555.7 L451.4 551.4 L454.3 547.1 L457.1 542.3 L460.0 536.6 L462.0 534.9 L464.3 536.6 L467.1 539.4 L470.0 542.3 L472.9 545.7 L474.9 551.4 L477.1 555.7 L480.0 557.7 L482.9 558.0 L485.7 557.1 L488.6 559.4 L491.4 562.0 L493.7 563.4 L496.6 562.3 L500.0 558.0 L502.9 557.7 L505.7 558.6 L509.1 557.7 L512.0 556.6 L515.7 556.6 L520.0 556.3 L522.9 558.6 L525.7 561.4 L530.0 560.6 L532.9 559.4 L535.7 559.4 L538.6 562.3 L542.3 563.4 L545.1 568.0 L548.0 572.9 L550.0 579.4 L552.0 583.7 L554.9 584.3 L558.6 583.4 L561.4 582.9 L563.4 578.6 L566.3 572.9 L569.1 569.1 L572.0 565.1 L574.9 560.9 L577.7 557.7 L580.0 558.6 L582.9 562.3 L585.8 564.6 L588.7 566.5 L591.7 569.0 L594.6 572.0 L597.5 575.4 L600.4 578.5 L603.3 581.0 L606.2 582.6 L609.1 583.3 L612.0 583.0 L615.0 581.4 L617.9 578.1 L619.8 573.3 L621.2 567.4 L622.7 563.5 L625.0 562.0 L627.0 560.0 L629.5 559.3 L631.5 557.3 L634.0 556.4 L635.9 558.1 L637.9 561.6 L639.2 565.1" fill="none" stroke="#000" stroke-width="1.65" stroke-linejoin="round" stroke-linecap="round"/>
<rect x="43.5" y="523.5" width="601.0" height="99.0" fill="none" stroke="#bcbcbc" stroke-width="1"/>
<line x1="644.5" y1="621.5" x2="646.0" y2="621.5" stroke="#b4b4b4" stroke-width="1"/>
<line x1="644.5" y1="617.5" x2="646.0" y2="617.5" stroke="#b4b4b4" stroke-width="1"/>
<line x1="644.5" y1="612.5" x2="646.0" y2="612.5" stroke="#b4b4b4" stroke-width="1"/>
<line x1="644.5" y1="608.5" x2="646.0" y2="608.5" stroke="#b4b4b4" stroke-width="1"/>
<line x1="644.5" y1="604.5" x2="646.0" y2="604.5" stroke="#b4b4b4" stroke-width="1"/>
<line x1="644.5" y1="600.5" x2="646.0" y2="600.5" stroke="#b4b4b4" stroke-width="1"/>
<line x1="644.5" y1="595.5" x2="646.0" y2="595.5" stroke="#b4b4b4" stroke-width="1"/>
<line x1="644.5" y1="591.5" x2="646.0" y2="591.5" stroke="#b4b4b4" stroke-width="1"/>
<line x1="644.5" y1="587.5" x2="646.0" y2="587.5" stroke="#b4b4b4" stroke-width="1"/>
<line x1="644.5" y1="582.5" x2="646.0" y2="582.5" stroke="#b4b4b4" stroke-width="1"/>
<line x1="644.5" y1="578.5" x2="646.0" y2="578.5" stroke="#b4b4b4" stroke-width="1"/>
<line x1="644.5" y1="574.5" x2="646.0" y2="574.5" stroke="#b4b4b4" stroke-width="1"/>
<line x1="644.5" y1="570.5" x2="646.0" y2="570.5" stroke="#b4b4b4" stroke-width="1"/>
<line x1="644.5" y1="565.5" x2="646.0" y2="565.5" stroke="#b4b4b4" stroke-width="1"/>
<line x1="644.5" y1="561.5" x2="646.0" y2="561.5" stroke="#b4b4b4" stroke-width="1"/>
<line x1="644.5" y1="557.5" x2="646.0" y2="557.5" stroke="#b4b4b4" stroke-width="1"/>
<line x1="644.5" y1="552.5" x2="646.0" y2="552.5" stroke="#b4b4b4" stroke-width="1"/>
<line x1="644.5" y1="548.5" x2="646.0" y2="548.5" stroke="#b4b4b4" stroke-width="1"/>
<line x1="644.5" y1="544.5" x2="646.0" y2="544.5" stroke="#b4b4b4" stroke-width="1"/>
<line x1="644.5" y1="540.5" x2="646.0" y2="540.5" stroke="#b4b4b4" stroke-width="1"/>
<line x1="644.5" y1="535.5" x2="646.0" y2="535.5" stroke="#b4b4b4" stroke-width="1"/>
<line x1="644.5" y1="531.5" x2="646.0" y2="531.5" stroke="#b4b4b4" stroke-width="1"/>
<line x1="644.5" y1="527.5" x2="646.0" y2="527.5" stroke="#b4b4b4" stroke-width="1"/>
<line x1="644.5" y1="535.5" x2="647.5" y2="535.5" stroke="#b4b4b4" stroke-width="1"/>
<line x1="644.5" y1="557.5" x2="647.5" y2="557.5" stroke="#b4b4b4" stroke-width="1"/>
<line x1="644.5" y1="578.5" x2="647.5" y2="578.5" stroke="#b4b4b4" stroke-width="1"/>
<line x1="644.5" y1="600.5" x2="647.5" y2="600.5" stroke="#b4b4b4" stroke-width="1"/>
<text x="656.9" y="537.8" font-family="Liberation Sans, sans-serif" font-size="9.60" text-anchor="start" font-weight="normal" fill="#000" stroke="#000" stroke-width="0.15" textLength="17.0" lengthAdjust="spacingAndGlyphs">500</text>
<text x="675.1" y="537.8" font-family="Liberation Sans, sans-serif" font-size="9.60" text-anchor="start" font-weight="normal" fill="#000" stroke="#000" stroke-width="0.15" textLength="7.6" lengthAdjust="spacingAndGlyphs">%</text>
<text x="668.2" y="559.8" font-family="Liberation Sans, sans-serif" font-size="9.60" text-anchor="start" font-weight="normal" fill="#000" stroke="#000" stroke-width="0.15" textLength="5.7" lengthAdjust="spacingAndGlyphs">0</text>
<text x="675.1" y="559.8" font-family="Liberation Sans, sans-serif" font-size="9.60" text-anchor="start" font-weight="normal" fill="#000" stroke="#000" stroke-width="0.15" textLength="7.6" lengthAdjust="spacingAndGlyphs">%</text>
<text x="653.9" y="580.8" font-family="Liberation Sans, sans-serif" font-size="9.60" text-anchor="start" font-weight="normal" fill="#000" stroke="#000" stroke-width="0.15" textLength="20.0" lengthAdjust="spacingAndGlyphs">-500</text>
<text x="675.1" y="580.8" font-family="Liberation Sans, sans-serif" font-size="9.60" text-anchor="start" font-weight="normal" fill="#000" stroke="#000" stroke-width="0.15" textLength="7.6" lengthAdjust="spacingAndGlyphs">%</text>
<text x="648.2" y="602.8" font-family="Liberation Sans, sans-serif" font-size="9.60" text-anchor="start" font-weight="normal" fill="#000" stroke="#000" stroke-width="0.15" textLength="25.6" lengthAdjust="spacingAndGlyphs">-1000</text>
<text x="675.1" y="602.8" font-family="Liberation Sans, sans-serif" font-size="9.60" text-anchor="start" font-weight="normal" fill="#000" stroke="#000" stroke-width="0.15" textLength="7.6" lengthAdjust="spacingAndGlyphs">%</text>
<text x="66.5" y="632.6" font-family="Liberation Sans, sans-serif" font-size="9.30" text-anchor="middle" font-weight="normal" fill="#000" stroke="#000" stroke-width="0.20">S</text>
<text x="91.5" y="632.6" font-family="Liberation Sans, sans-serif" font-size="9.30" text-anchor="middle" font-weight="normal" fill="#000" stroke="#000" stroke-width="0.20">O</text>
<text x="116.5" y="632.6" font-family="Liberation Sans, sans-serif" font-size="9.30" text-anchor="middle" font-weight="normal" fill="#000" stroke="#000" stroke-width="0.20">N</text>
<text x="141.5" y="632.6" font-family="Liberation Sans, sans-serif" font-size="9.30" text-anchor="middle" font-weight="normal" fill="#000" stroke="#000" stroke-width="0.20">D</text>
<text x="166.2" y="632.7" font-family="Liberation Sans, sans-serif" font-size="10.20" text-anchor="middle" font-weight="bold" fill="#000">23</text>
<text x="190.5" y="632.6" font-family="Liberation Sans, sans-serif" font-size="9.30" text-anchor="middle" font-weight="normal" fill="#000" stroke="#000" stroke-width="0.20">F</text>
<text x="212.5" y="632.6" font-family="Liberation Sans, sans-serif" font-size="9.30" text-anchor="middle" font-weight="normal" fill="#000" stroke="#000" stroke-width="0.20">M</text>
<text x="240.5" y="632.6" font-family="Liberation Sans, sans-serif" font-size="9.30" text-anchor="middle" font-weight="normal" fill="#000" stroke="#000" stroke-width="0.20">A</text>
<text x="262.5" y="632.6" font-family="Liberation Sans, sans-serif" font-size="9.30" text-anchor="middle" font-weight="normal" fill="#000" stroke="#000" stroke-width="0.20">M</text>
<text x="288.5" y="632.6" font-family="Liberation Sans, sans-serif" font-size="9.30" text-anchor="middle" font-weight="normal" fill="#000" stroke="#000" stroke-width="0.20">J</text>
<text x="313.5" y="632.6" font-family="Liberation Sans, sans-serif" font-size="9.30" text-anchor="middle" font-weight="normal" fill="#000" stroke="#000" stroke-width="0.20">J</text>
<text x="337.5" y="632.6" font-family="Liberation Sans, sans-serif" font-size="9.30" text-anchor="middle" font-weight="normal" fill="#000" stroke="#000" stroke-width="0.20">A</text>
<text x="364.5" y="632.6" font-family="Liberation Sans, sans-serif" font-size="9.30" text-anchor="middle" font-weight="normal" fill="#000" stroke="#000" stroke-width="0.20">S</text>
<text x="388.5" y="632.6" font-family="Liberation Sans, sans-serif" font-size="9.30" text-anchor="middle" font-weight="normal" fill="#000" stroke="#000" stroke-width="0.20">O</text>
<text x="414.5" y="632.6" font-family="Liberation Sans, sans-serif" font-size="9.30" text-anchor="middle" font-weight="normal" fill="#000" stroke="#000" stroke-width="0.20">N</text>
<text x="439.5" y="632.6" font-family="Liberation Sans, sans-serif" font-size="9.30" text-anchor="middle" font-weight="normal" fill="#000" stroke="#000" stroke-width="0.20">D</text>
<text x="462.2" y="632.7" font-family="Liberation Sans, sans-serif" font-size="10.20" text-anchor="middle" font-weight="bold" fill="#000">24</text>
<text x="487.5" y="632.6" font-family="Liberation Sans, sans-serif" font-size="9.30" text-anchor="middle" font-weight="normal" fill="#000" stroke="#000" stroke-width="0.20">F</text>
<text x="511.5" y="632.6" font-family="Liberation Sans, sans-serif" font-size="9.30" text-anchor="middle" font-weight="normal" fill="#000" stroke="#000" stroke-width="0.20">M</text>
<text x="535.5" y="632.6" font-family="Liberation Sans, sans-serif" font-size="9.30" text-anchor="middle" font-weight="normal" fill="#000" stroke="#000" stroke-width="0.20">A</text>
<text x="561.5" y="632.6" font-family="Liberation Sans, sans-serif" font-size="9.30" text-anchor="middle" font-weight="normal" fill="#000" stroke="#000" stroke-width="0.20">M</text>
<text x="587.5" y="632.6" font-family="Liberation Sans, sans-serif" font-size="9.30" text-anchor="middle" font-weight="normal" fill="#000" stroke="#000" stroke-width="0.20">J</text>
<text x="609.5" y="632.6" font-family="Liberation Sans, sans-serif" font-size="9.30" text-anchor="middle" font-weight="normal" fill="#000" stroke="#000" stroke-width="0.20">J</text>
<text x="635.5" y="632.6" font-family="Liberation Sans, sans-serif" font-size="9.30" text-anchor="middle" font-weight="normal" fill="#000" stroke="#000" stroke-width="0.20">A</text>
<line x1="66.5" y1="636.5" x2="66.5" y2="639" stroke="#d8d8d8" stroke-width="1"/>
<line x1="91.5" y1="636.5" x2="91.5" y2="639" stroke="#d8d8d8" stroke-width="1"/>
<line x1="116.5" y1="636.5" x2="116.5" y2="639" stroke="#d8d8d8" stroke-width="1"/>
<line x1="141.5" y1="636.5" x2="141.5" y2="639" stroke="#d8d8d8" stroke-width="1"/>
<line x1="166.5" y1="636.5" x2="166.5" y2="639" stroke="#d8d8d8" stroke-width="1"/>
<line x1="190.5" y1="636.5" x2="190.5" y2="639" stroke="#d8d8d8" stroke-width="1"/>
<line x1="212.5" y1="636.5" x2="212.5" y2="639" stroke="#d8d8d8" stroke-width="1"/>
<line x1="240.5" y1="636.5" x2="240.5" y2="639" stroke="#d8d8d8" stroke-width="1"/>
<line x1="262.5" y1="636.5" x2="262.5" y2="639" stroke="#d8d8d8" stroke-width="1"/>
<line x1="288.5" y1="636.5" x2="288.5" y2="639" stroke="#d8d8d8" stroke-width="1"/>
<line x1="313.5" y1="636.5" x2="313.5" y2="639" stroke="#d8d8d8" stroke-width="1"/>
<line x1="337.5" y1="636.5" x2="337.5" y2="639" stroke="#d8d8d8" stroke-width="1"/>
<line x1="364.5" y1="636.5" x2="364.5" y2="639" stroke="#d8d8d8" stroke-width="1"/>
<line x1="388.5" y1="636.5" x2="388.5" y2="639" stroke="#d8d8d8" stroke-width="1"/>
<line x1="414.5" y1="636.5" x2="414.5" y2="639" stroke="#d8d8d8" stroke-width="1"/>
<line x1="439.5" y1="636.5" x2="439.5" y2="639" stroke="#d8d8d8" stroke-width="1"/>
<line x1="462.5" y1="636.5" x2="462.5" y2="639" stroke="#d8d8d8" stroke-width="1"/>
<line x1="487.5" y1="636.5" x2="487.5" y2="639" stroke="#d8d8d8" stroke-width="1"/>
<line x1="511.5" y1="636.5" x2="511.5" y2="639" stroke="#d8d8d8" stroke-width="1"/>
<line x1="535.5" y1="636.5" x2="535.5" y2="639" stroke="#d8d8d8" stroke-width="1"/>
<line x1="561.5" y1="636.5" x2="561.5" y2="639" stroke="#d8d8d8" stroke-width="1"/>
<line x1="587.5" y1="636.5" x2="587.5" y2="639" stroke="#d8d8d8" stroke-width="1"/>
<line x1="609.5" y1="636.5" x2="609.5" y2="639" stroke="#d8d8d8" stroke-width="1"/>
<line x1="635.5" y1="636.5" x2="635.5" y2="639" stroke="#d8d8d8" stroke-width="1"/>
<path d="M642.2 243.8 L647.2 238.1 H684.5 V249.5 H647.2 Z" fill="#fff" stroke="#ee40ee" stroke-width="1.3"/>
<text x="648.2" y="247.5" font-family="Liberation Sans, sans-serif" font-size="10.60" text-anchor="start" font-weight="bold" fill="#000"></text>
<text x="646.9" y="247.6" font-family="Liberation Sans, sans-serif" font-size="10.00" text-anchor="start" font-weight="normal" fill="#000" textLength="35.4" lengthAdjust="spacingAndGlyphs">29.24%</text>
<path d="M642.2 241.5 L647.2 236.4 H675.8 V246.6 H647.2 Z" fill="#fff" stroke="#10109a" stroke-width="1.3"/>
<text x="648.2" y="245.2" font-family="Liberation Sans, sans-serif" font-size="10.60" text-anchor="start" font-weight="bold" fill="#000"></text>
<text x="646.7" y="245.1" font-family="Liberation Sans, sans-serif" font-size="10.00" text-anchor="start" font-weight="normal" fill="#000" textLength="27.0" lengthAdjust="spacingAndGlyphs">39.50</text>
<path d="M642.2 269.9 L647.2 264.5 H675.8 V275.3 H647.2 Z" fill="#fff" stroke="#000" stroke-width="1.3"/>
<text x="648.2" y="273.6" font-family="Liberation Sans, sans-serif" font-size="10.60" text-anchor="start" font-weight="bold" fill="#000"></text>
<text x="647.5" y="273.8" font-family="Liberation Sans, sans-serif" font-size="11.30" text-anchor="start" font-weight="bold" fill="#000" textLength="25.7" lengthAdjust="spacingAndGlyphs">31.00</text>
<path d="M642.0 66.1 L647.0 60.5 H685.0 V71.7 H647.0 Z" fill="#fff" stroke="#d01040" stroke-width="1.3"/>
<text x="648.0" y="69.8" font-family="Liberation Sans, sans-serif" font-size="10.60" text-anchor="start" font-weight="bold" fill="#000"></text>
<text x="647.2" y="69.9" font-family="Liberation Sans, sans-serif" font-size="11.20" text-anchor="start" font-weight="bold" fill="#000" textLength="35.5" lengthAdjust="spacingAndGlyphs">48.23%</text>
<path d="M642.0 466.2 L647.0 460.8 H684.5 V471.6 H647.0 Z" fill="#fff" stroke="#f06a18" stroke-width="1.3"/>
<text x="648.0" y="469.9" font-family="Liberation Sans, sans-serif" font-size="10.60" text-anchor="start" font-weight="bold" fill="#000"></text>
<text x="646.5" y="470.0" font-family="Liberation Sans, sans-serif" font-size="11.20" text-anchor="start" font-weight="bold" fill="#000" textLength="35.5" lengthAdjust="spacingAndGlyphs">24.39%</text>
<path d="M642.5 565.2 L647.5 560.0 H695.0 V570.4 H647.5 Z" fill="#fff" stroke="#000" stroke-width="1.3"/>
<text x="648.5" y="568.9" font-family="Liberation Sans, sans-serif" font-size="10.60" text-anchor="start" font-weight="bold" fill="#000"></text>
<text x="646.6" y="569.0" font-family="Liberation Sans, sans-serif" font-size="11.20" text-anchor="start" font-weight="bold" fill="#000" textLength="45.6" lengthAdjust="spacingAndGlyphs">-200.46%</text>
<rect x="44.0" y="29.0" width="92.5" height="11.6" fill="#fff"/>
<rect x="44.0" y="128.0" width="135.5" height="11.6" fill="#fff"/>
<rect x="44.0" y="139.6" width="73.0" height="10.6" fill="#fff"/>
<rect x="44.0" y="150.2" width="72.0" height="10.4" fill="#fff"/>
<rect x="44.0" y="425.0" width="133.0" height="11.6" fill="#fff"/>
<rect x="44.0" y="524.0" width="107.5" height="11.6" fill="#fff"/>
<path d="M46.0 38.9 l0.6 -1.9 l4 -6.0 l2 4.4 l2 -2.3 l0.4 0 V38.9 Z" fill="#dc4868" stroke="#d41440" stroke-width="0.6" stroke-linejoin="round"/>
<text transform="translate(58.9,38.9) scale(1.070,1)" font-family="Liberation Sans, sans-serif" font-size="9.80" fill="#000" textLength="70.5" lengthAdjust="spacing">$SOX 48.23%</text>
<rect x="46" y="132.9" width="8.9" height="2.2" fill="#000"/>
<text transform="translate(58.9,138.0) scale(1.070,1)" font-family="Liberation Sans, sans-serif" font-size="9.80" fill="#000" textLength="110.6" lengthAdjust="spacing">$BPNDX (Daily) 31.00</text>
<rect x="46" y="144" width="8.9" height="2" fill="#10109a"/>
<text x="56.8" y="148.3" font-family="Liberation Sans, sans-serif" font-size="9" fill="#00008b" stroke="#00008b" stroke-width="0.25" textLength="58.1" lengthAdjust="spacingAndGlyphs">MA(10) 39.50</text>
<path d="M46.0 158.0 l0.6 -1.5 l4 -4.7 l2 3.4 l2 -1.8 l0.4 0 V158.0 Z" fill="#c878dc" stroke="#c070d8" stroke-width="0.6" stroke-linejoin="round"/>
<text x="56.8" y="158.6" font-family="Liberation Sans, sans-serif" font-size="9" fill="#ff00ff" stroke="#ff00ff" stroke-width="0.25" textLength="56.9" lengthAdjust="spacingAndGlyphs">$VIX 29.24%</text>
<path d="M46.0 434.9 l0.6 -1.9 l4 -6.0 l2 4.4 l2 -2.3 l0.4 0 V434.9 Z" fill="#f58040" stroke="#f06a18" stroke-width="0.6" stroke-linejoin="round"/>
<text transform="translate(58.9,434.9) scale(1.070,1)" font-family="Liberation Sans, sans-serif" font-size="9.80" fill="#000" textLength="108.4" lengthAdjust="spacing">$SOX:$INDU 24.39%</text>
<rect x="46" y="528.9" width="8.9" height="2.2" fill="#000"/>
<text transform="translate(58.9,534.0) scale(1.070,1)" font-family="Liberation Sans, sans-serif" font-size="9.80" fill="#000" textLength="84.6" lengthAdjust="spacing">$NASI -200.46%</text>
<text x="43.6" y="13.3" font-family="Liberation Sans, sans-serif" font-size="12.80" text-anchor="start" font-weight="bold" fill="#000" textLength="51.5" lengthAdjust="spacingAndGlyphs">$BPNDX</text>
<text x="99.4" y="12.9" font-family="Liberation Sans, sans-serif" font-size="10.90" text-anchor="start" font-weight="normal" fill="#000" textLength="160.0" lengthAdjust="spacingAndGlyphs">Nasdaq 100 Bullish Percent Index</text>
<text x="265.0" y="12.9" font-family="Liberation Sans, sans-serif" font-size="8.30" text-anchor="start" font-weight="normal" fill="#000" textLength="22.5" lengthAdjust="spacingAndGlyphs">INDX</text>
<text x="43.6" y="25.7" font-family="Liberation Sans, sans-serif" font-size="10.30" text-anchor="start" font-weight="normal" fill="#000" textLength="52.5" lengthAdjust="spacingAndGlyphs">6-Aug-2024</text>
<text x="555.0" y="12.6" font-family="Liberation Sans, sans-serif" font-size="9.50" text-anchor="start" font-weight="normal" fill="#463a52" textLength="7.0" lengthAdjust="spacingAndGlyphs">©</text>
<text x="564.5" y="12.6" font-family="Liberation Sans, sans-serif" font-size="10.40" text-anchor="start" font-weight="normal" fill="#463a52" textLength="80.0" lengthAdjust="spacingAndGlyphs">StockCharts.com</text>
<text x="284.1" y="25.7" font-family="Liberation Sans, sans-serif" font-size="10.30" text-anchor="start" font-weight="bold" fill="#000" textLength="27.9" lengthAdjust="spacingAndGlyphs">Open</text>
<text x="316.1" y="25.7" font-family="Liberation Sans, sans-serif" font-size="10.30" text-anchor="start" font-weight="normal" fill="#000" textLength="25.8" lengthAdjust="spacingAndGlyphs">29.00</text>
<text x="348.7" y="25.7" font-family="Liberation Sans, sans-serif" font-size="10.30" text-anchor="start" font-weight="bold" fill="#000" textLength="23.6" lengthAdjust="spacingAndGlyphs">High</text>
<text x="376.4" y="25.7" font-family="Liberation Sans, sans-serif" font-size="10.30" text-anchor="start" font-weight="normal" fill="#000" textLength="25.7" lengthAdjust="spacingAndGlyphs">32.00</text>
<text x="408.9" y="25.7" font-family="Liberation Sans, sans-serif" font-size="10.30" text-anchor="start" font-weight="bold" fill="#000" textLength="21.8" lengthAdjust="spacingAndGlyphs">Low</text>
<text x="435.6" y="25.7" font-family="Liberation Sans, sans-serif" font-size="10.30" text-anchor="start" font-weight="normal" fill="#000" textLength="25.8" lengthAdjust="spacingAndGlyphs">29.00</text>
<text x="468.7" y="25.7" font-family="Liberation Sans, sans-serif" font-size="10.30" text-anchor="start" font-weight="bold" fill="#000" textLength="30.7" lengthAdjust="spacingAndGlyphs">Close</text>
<text x="503.4" y="25.7" font-family="Liberation Sans, sans-serif" font-size="10.30" text-anchor="start" font-weight="normal" fill="#000" textLength="25.8" lengthAdjust="spacingAndGlyphs">31.00</text>
<text x="536.8" y="25.7" font-family="Liberation Sans, sans-serif" font-size="10.30" text-anchor="start" font-weight="bold" fill="#000" textLength="20.9" lengthAdjust="spacingAndGlyphs">Chg</text>
<text x="561.8" y="25.7" font-family="Liberation Sans, sans-serif" font-size="10.30" text-anchor="start" font-weight="normal" fill="#000" textLength="25.2" lengthAdjust="spacingAndGlyphs">+1.00</text>
<text x="591.1" y="25.7" font-family="Liberation Sans, sans-serif" font-size="10.30" text-anchor="start" font-weight="normal" fill="#000" textLength="42.6" lengthAdjust="spacingAndGlyphs">(+3.33%)</text>
<path d="M636.4 25.6 L644.6 25.6 L640.5 21.2 Z" fill="#4a4a4a"/>
</svg>

</body></html>
